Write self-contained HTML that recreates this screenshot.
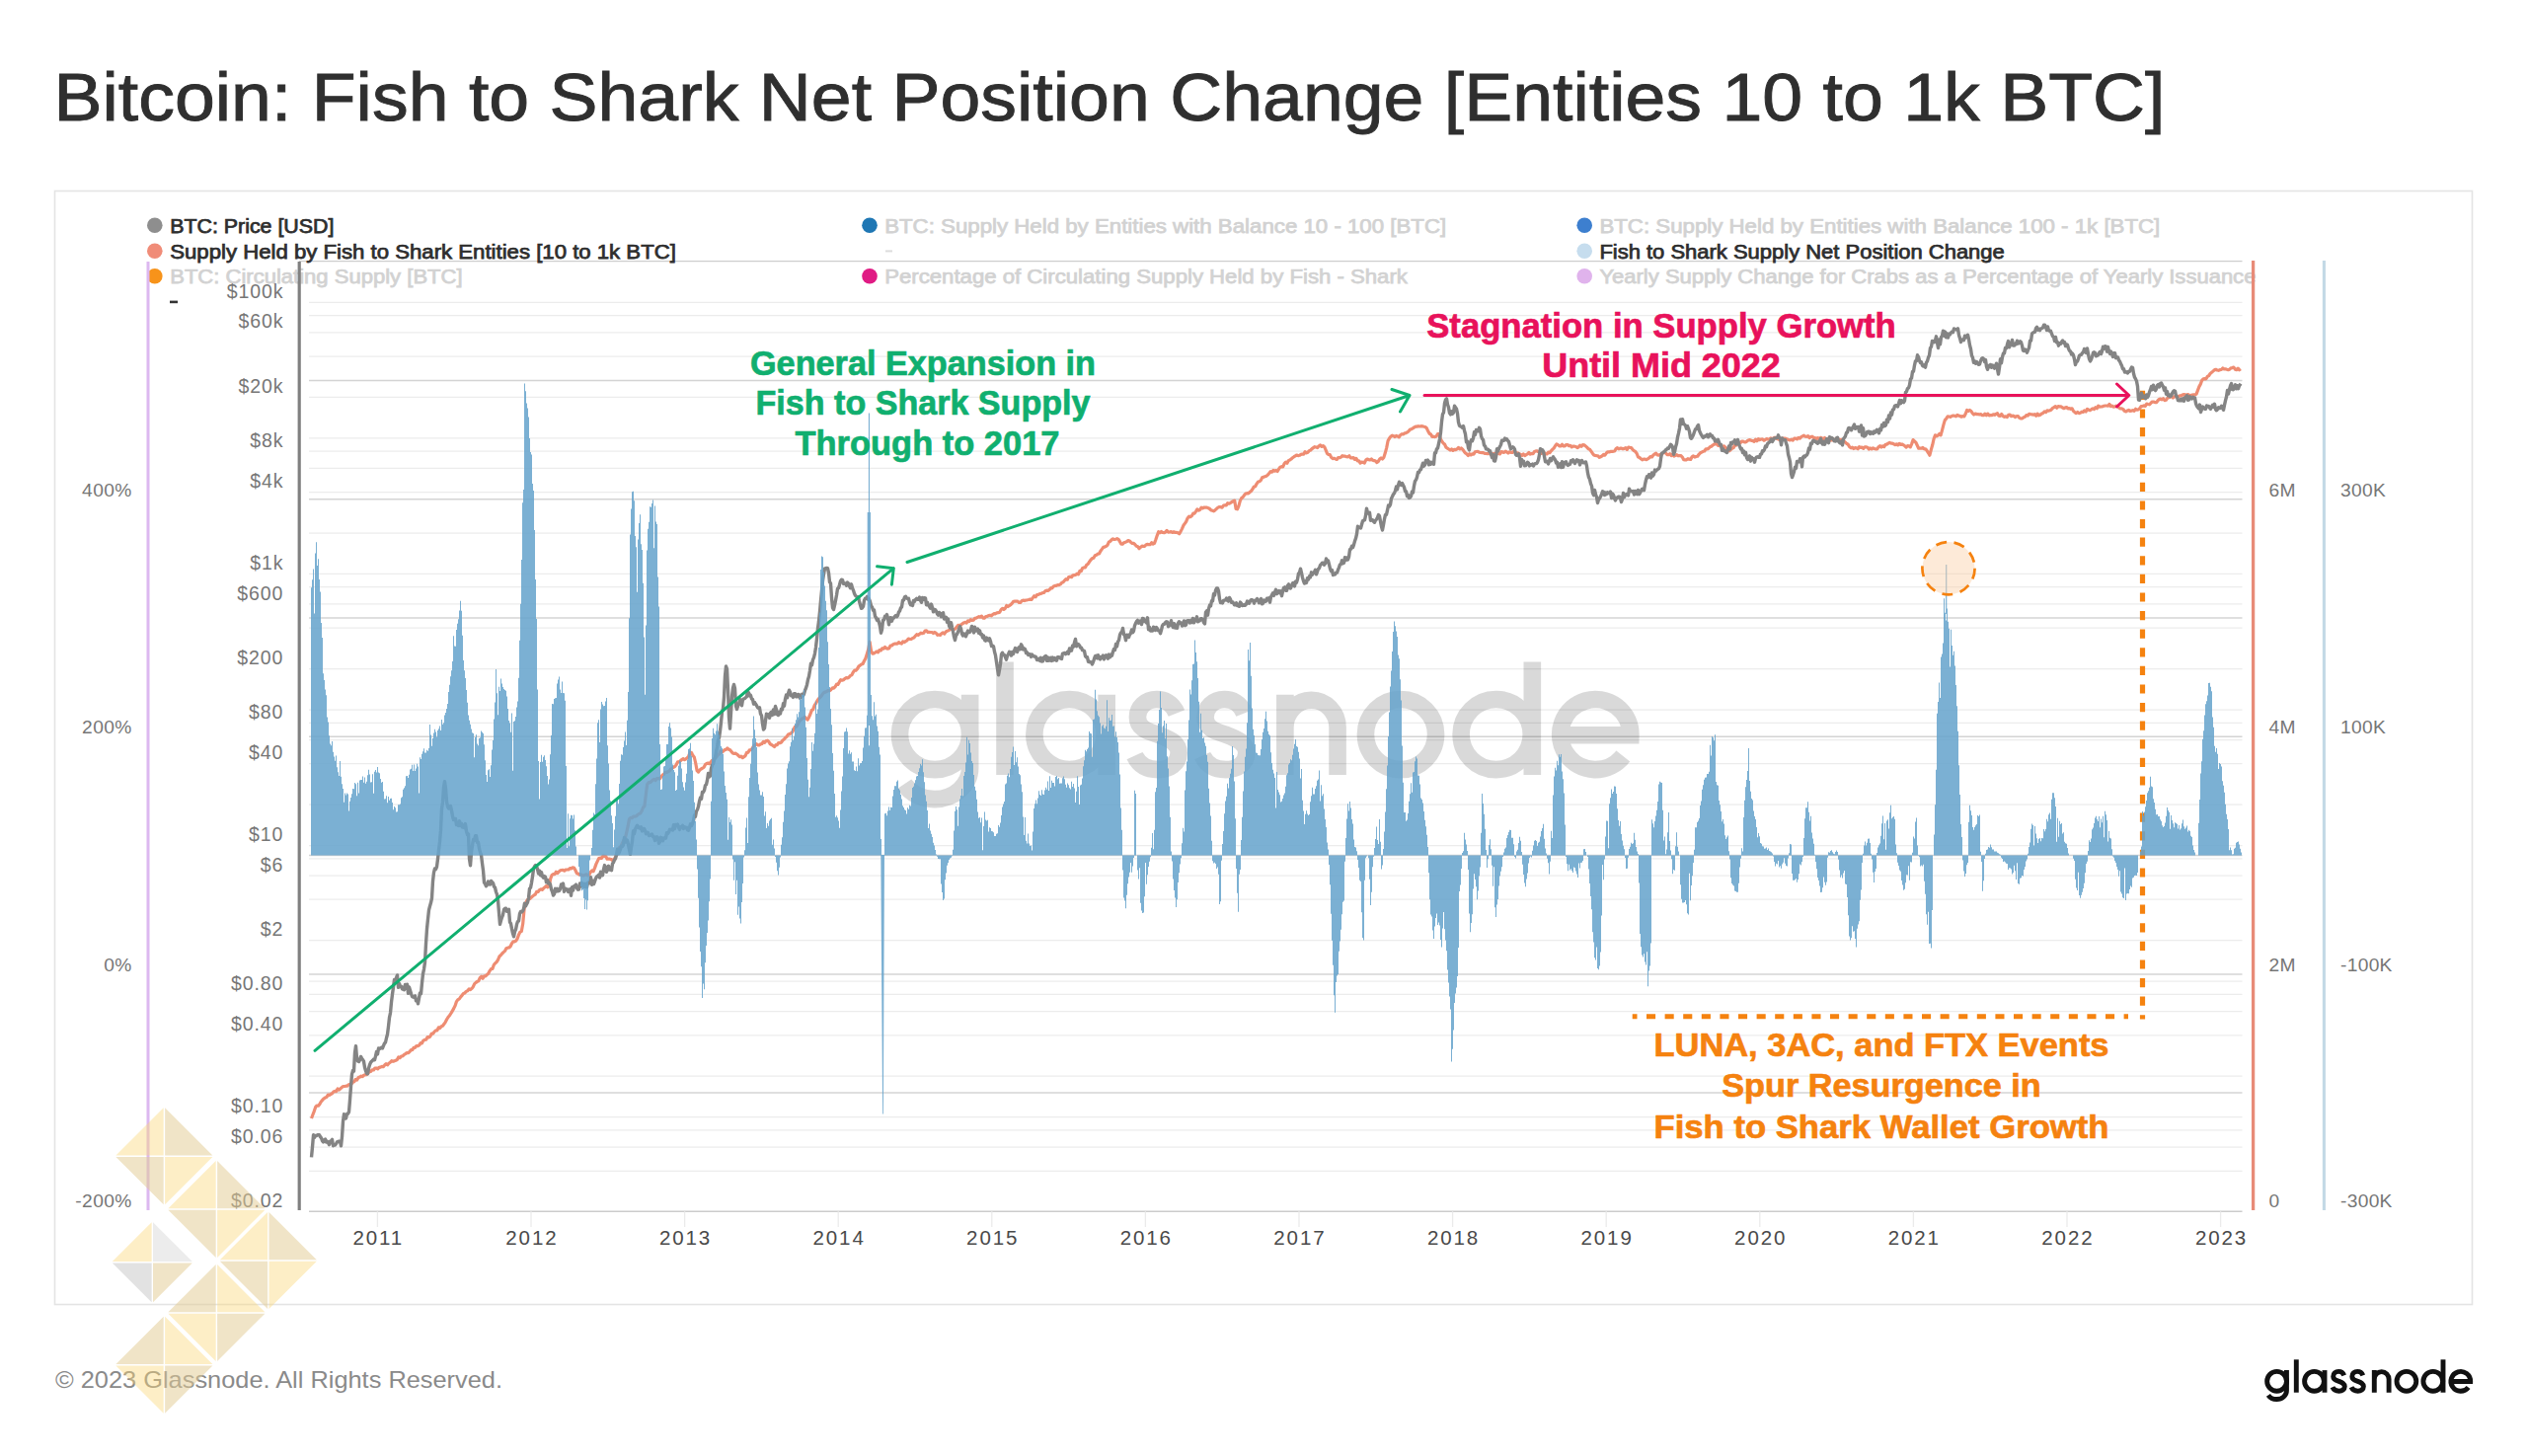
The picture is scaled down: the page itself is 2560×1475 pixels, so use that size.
<!DOCTYPE html><html><head><meta charset="utf-8"><title>Bitcoin: Fish to Shark Net Position Change</title>
<style>html,body{margin:0;padding:0;background:#fff;}body{width:2560px;height:1475px;overflow:hidden;font-family:"Liberation Sans", sans-serif;}svg{display:block;font-family:"Liberation Sans", sans-serif;}</style>
</head><body>
<svg width="2560" height="1475" viewBox="0 0 2560 1475">
<rect width="2560" height="1475" fill="#fff"/>
<text x="54.5" y="122" font-size="68.6" fill="#2f2f2f" font-weight="normal" text-anchor="start" textLength="2139" lengthAdjust="spacingAndGlyphs" stroke="#2f2f2f" stroke-width="0.9">Bitcoin: Fish to Shark Net Position Change [Entities 10 to 1k BTC]</text>
<rect x="55.5" y="193.5" width="2449" height="1128" fill="#fff" stroke="#e4e4e4" stroke-width="1.6"/>
<line x1="303" x2="2271.5" y1="264.6" y2="264.6" stroke="#cdcdcd" stroke-width="1.3"/>
<g stroke="#ececec" stroke-width="1.25"><line x1="313" x2="2271.5" y1="361" y2="361"/><line x1="313" x2="2271.5" y1="336.8" y2="336.8"/><line x1="313" x2="2271.5" y1="319.6" y2="319.6"/><line x1="313" x2="2271.5" y1="306.3" y2="306.3"/><line x1="313" x2="2271.5" y1="402.4" y2="402.4"/><line x1="313" x2="2271.5" y1="498.6" y2="498.6"/><line x1="313" x2="2271.5" y1="474.4" y2="474.4"/><line x1="313" x2="2271.5" y1="457.2" y2="457.2"/><line x1="313" x2="2271.5" y1="443.9" y2="443.9"/><line x1="313" x2="2271.5" y1="540" y2="540"/><line x1="313" x2="2271.5" y1="636.1" y2="636.1"/><line x1="313" x2="2271.5" y1="611.9" y2="611.9"/><line x1="313" x2="2271.5" y1="594.7" y2="594.7"/><line x1="313" x2="2271.5" y1="581.4" y2="581.4"/><line x1="313" x2="2271.5" y1="677.5" y2="677.5"/><line x1="313" x2="2271.5" y1="773.7" y2="773.7"/><line x1="313" x2="2271.5" y1="749.5" y2="749.5"/><line x1="313" x2="2271.5" y1="732.3" y2="732.3"/><line x1="313" x2="2271.5" y1="719" y2="719"/><line x1="313" x2="2271.5" y1="815.1" y2="815.1"/><line x1="313" x2="2271.5" y1="911.2" y2="911.2"/><line x1="313" x2="2271.5" y1="887" y2="887"/><line x1="313" x2="2271.5" y1="869.8" y2="869.8"/><line x1="313" x2="2271.5" y1="856.5" y2="856.5"/><line x1="313" x2="2271.5" y1="952.6" y2="952.6"/><line x1="313" x2="2271.5" y1="1048.8" y2="1048.8"/><line x1="313" x2="2271.5" y1="1024.6" y2="1024.6"/><line x1="313" x2="2271.5" y1="1007.4" y2="1007.4"/><line x1="313" x2="2271.5" y1="994.1" y2="994.1"/><line x1="313" x2="2271.5" y1="1090.2" y2="1090.2"/><line x1="313" x2="2271.5" y1="1186.3" y2="1186.3"/><line x1="313" x2="2271.5" y1="1162.1" y2="1162.1"/><line x1="313" x2="2271.5" y1="1144.9" y2="1144.9"/><line x1="313" x2="2271.5" y1="1131.6" y2="1131.6"/></g><g stroke="#d4d4d4" stroke-width="1.5"><line x1="313" x2="2271.5" y1="385.4" y2="385.4"/><line x1="313" x2="2271.5" y1="505.7" y2="505.7"/><line x1="313" x2="2271.5" y1="626" y2="626"/><line x1="313" x2="2271.5" y1="746.3" y2="746.3"/><line x1="313" x2="2271.5" y1="866.6" y2="866.6"/><line x1="313" x2="2271.5" y1="986.9" y2="986.9"/><line x1="313" x2="2271.5" y1="1107.1" y2="1107.1"/></g>
<line x1="313" x2="2271.5" y1="1227.3" y2="1227.3" stroke="#cccccc" stroke-width="1.6"/>
<line x1="382.4" x2="382.4" y1="1227.3" y2="1243" stroke="#ebebeb" stroke-width="1.3"/><text x="383.3" y="1261.2" font-size="20.5" fill="#4a4a4a" font-weight="normal" text-anchor="middle" letter-spacing="1.9">2011</text><line x1="538" x2="538" y1="1227.3" y2="1243" stroke="#ebebeb" stroke-width="1.3"/><text x="538.9" y="1261.2" font-size="20.5" fill="#4a4a4a" font-weight="normal" text-anchor="middle" letter-spacing="1.9">2012</text><line x1="693.6" x2="693.6" y1="1227.3" y2="1243" stroke="#ebebeb" stroke-width="1.3"/><text x="694.5" y="1261.2" font-size="20.5" fill="#4a4a4a" font-weight="normal" text-anchor="middle" letter-spacing="1.9">2013</text><line x1="849.2" x2="849.2" y1="1227.3" y2="1243" stroke="#ebebeb" stroke-width="1.3"/><text x="850.1" y="1261.2" font-size="20.5" fill="#4a4a4a" font-weight="normal" text-anchor="middle" letter-spacing="1.9">2014</text><line x1="1004.8" x2="1004.8" y1="1227.3" y2="1243" stroke="#ebebeb" stroke-width="1.3"/><text x="1005.7" y="1261.2" font-size="20.5" fill="#4a4a4a" font-weight="normal" text-anchor="middle" letter-spacing="1.9">2015</text><line x1="1160.4" x2="1160.4" y1="1227.3" y2="1243" stroke="#ebebeb" stroke-width="1.3"/><text x="1161.3" y="1261.2" font-size="20.5" fill="#4a4a4a" font-weight="normal" text-anchor="middle" letter-spacing="1.9">2016</text><line x1="1316" x2="1316" y1="1227.3" y2="1243" stroke="#ebebeb" stroke-width="1.3"/><text x="1316.9" y="1261.2" font-size="20.5" fill="#4a4a4a" font-weight="normal" text-anchor="middle" letter-spacing="1.9">2017</text><line x1="1471.6" x2="1471.6" y1="1227.3" y2="1243" stroke="#ebebeb" stroke-width="1.3"/><text x="1472.5" y="1261.2" font-size="20.5" fill="#4a4a4a" font-weight="normal" text-anchor="middle" letter-spacing="1.9">2018</text><line x1="1627.2" x2="1627.2" y1="1227.3" y2="1243" stroke="#ebebeb" stroke-width="1.3"/><text x="1628.1" y="1261.2" font-size="20.5" fill="#4a4a4a" font-weight="normal" text-anchor="middle" letter-spacing="1.9">2019</text><line x1="1782.8" x2="1782.8" y1="1227.3" y2="1243" stroke="#ebebeb" stroke-width="1.3"/><text x="1783.7" y="1261.2" font-size="20.5" fill="#4a4a4a" font-weight="normal" text-anchor="middle" letter-spacing="1.9">2020</text><line x1="1938.4" x2="1938.4" y1="1227.3" y2="1243" stroke="#ebebeb" stroke-width="1.3"/><text x="1939.3" y="1261.2" font-size="20.5" fill="#4a4a4a" font-weight="normal" text-anchor="middle" letter-spacing="1.9">2021</text><line x1="2094" x2="2094" y1="1227.3" y2="1243" stroke="#ebebeb" stroke-width="1.3"/><text x="2094.9" y="1261.2" font-size="20.5" fill="#4a4a4a" font-weight="normal" text-anchor="middle" letter-spacing="1.9">2022</text><line x1="2249.6" x2="2249.6" y1="1227.3" y2="1243" stroke="#ebebeb" stroke-width="1.3"/><text x="2250.5" y="1261.2" font-size="20.5" fill="#4a4a4a" font-weight="normal" text-anchor="middle" letter-spacing="1.9">2023</text>
<g transform="translate(902.7 785.0) scale(3.593)" fill="none" stroke="#000" stroke-width="4.9" opacity="0.145"><circle cx="12.35" cy="-11.4" r="9.9"/><path d="M22.25 -22.6 V-2 A9.9 8.85 0 0 1 12.35 6.85 A9.9 8.85 0 0 1 3.7 2.6"/><path d="M32.1 -31.9 V0"/><circle cx="50.3" cy="-11.4" r="9.9"/><path d="M60.8 -22.6 V0"/><path d="M80.5 -17.4 C79.3 -20.4 76.89999999999999 -21.3 74.89999999999999 -21.3 C71.69999999999999 -21.3 69.5 -19 69.5 -16.3 C69.5 -13 72.5 -12.3 75.39999999999999 -11.3 C78.69999999999999 -10 81.1 -9 81.1 -6.1 C81.1 -3.2 78.5 -1.5 75.3 -1.5 C72.19999999999999 -1.5 69.89999999999999 -2.8 68.69999999999999 -5.4"/><path d="M99.60000000000001 -17.4 C98.4 -20.4 96.0 -21.3 94.0 -21.3 C90.8 -21.3 88.60000000000001 -19 88.60000000000001 -16.3 C88.60000000000001 -13 91.60000000000001 -12.3 94.5 -11.3 C97.8 -10 100.2 -9 100.2 -6.1 C100.2 -3.2 97.60000000000001 -1.5 94.4 -1.5 C91.3 -1.5 89.0 -2.8 87.8 -5.4"/><path d="M111.1 0 V-22.6 M111.1 -13.4 A7.4 7.7 0 0 1 125.9 -13.4 V0"/><circle cx="143.7" cy="-11.4" r="9.9"/><circle cx="170.6" cy="-11.4" r="9.9"/><path d="M180.8 -31.9 V0"/><path d="M188.7 -11.2 H208.5 A9.9 9.9 0 1 0 206.4 -5.3"/></g>
<circle cx="156.8" cy="228.3" r="7.8" fill="#8e8e8e"/><text x="172.2" y="235.6" font-size="20" fill="#2e2e2e" font-weight="normal" text-anchor="start" textLength="166.2" lengthAdjust="spacingAndGlyphs" stroke="#2e2e2e" stroke-width="0.75">BTC: Price [USD]</text><circle cx="156.8" cy="254.2" r="7.8" fill="#f08c78"/><text x="172.2" y="261.5" font-size="20" fill="#2e2e2e" font-weight="normal" text-anchor="start" textLength="512.7" lengthAdjust="spacingAndGlyphs" stroke="#2e2e2e" stroke-width="0.75">Supply Held by Fish to Shark Entities [10 to 1k BTC]</text><circle cx="156.8" cy="279.8" r="7.8" fill="#f7931a"/><text x="172.2" y="287.2" font-size="20" fill="#d2d2d2" font-weight="normal" text-anchor="start" textLength="296.4" lengthAdjust="spacingAndGlyphs" stroke="#d2d2d2" stroke-width="0.75">BTC: Circulating Supply [BTC]</text><rect x="172" y="304.6" width="8" height="2.6" fill="#333"/><circle cx="881" cy="228.3" r="7.8" fill="#1f77b4"/><text x="896.2" y="235.6" font-size="20" fill="#d2d2d2" font-weight="normal" text-anchor="start" textLength="569" lengthAdjust="spacingAndGlyphs" stroke="#d2d2d2" stroke-width="0.75">BTC: Supply Held by Entities with Balance 10 - 100 [BTC]</text><rect x="897" y="253.4" width="7" height="2" fill="#dcdcdc"/><circle cx="881" cy="279.8" r="7.8" fill="#e01b84"/><text x="896.2" y="287.2" font-size="20" fill="#d2d2d2" font-weight="normal" text-anchor="start" textLength="529.7" lengthAdjust="spacingAndGlyphs" stroke="#d2d2d2" stroke-width="0.75">Percentage of Circulating Supply Held by Fish - Shark</text><circle cx="1605.2" cy="228.3" r="7.8" fill="#3d7fcf"/><text x="1620.4" y="235.6" font-size="20" fill="#d2d2d2" font-weight="normal" text-anchor="start" textLength="567.9" lengthAdjust="spacingAndGlyphs" stroke="#d2d2d2" stroke-width="0.75">BTC: Supply Held by Entities with Balance 100 - 1k [BTC]</text><circle cx="1605.2" cy="254.2" r="7.8" fill="#c6ddee"/><text x="1620.4" y="261.5" font-size="20" fill="#2e2e2e" font-weight="normal" text-anchor="start" textLength="410.4" lengthAdjust="spacingAndGlyphs" stroke="#2e2e2e" stroke-width="0.75">Fish to Shark Supply Net Position Change</text><circle cx="1605.2" cy="279.8" r="7.8" fill="#e0b3ec"/><text x="1620.4" y="287.2" font-size="20" fill="#d2d2d2" font-weight="normal" text-anchor="start" textLength="665" lengthAdjust="spacingAndGlyphs" stroke="#d2d2d2" stroke-width="0.75">Yearly Supply Change for Crabs as a Percentage of Yearly Issuance</text>
<line x1="150" x2="150" y1="265" y2="1226" stroke="#dcb8f0" stroke-width="3"/>
<line x1="303.2" x2="303.2" y1="265" y2="1226" stroke="#808080" stroke-width="3.2"/>
<line x1="2282.6" x2="2282.6" y1="264" y2="1226" stroke="#e88b78" stroke-width="3.3"/>
<line x1="2354.4" x2="2354.4" y1="264" y2="1226" stroke="#c3d9e6" stroke-width="3.1"/>
<text x="287.3" y="301.9" font-size="19.5" fill="#767676" font-weight="normal" text-anchor="end" letter-spacing="0.9">$100k</text><text x="287.3" y="332.4" font-size="19.5" fill="#767676" font-weight="normal" text-anchor="end" letter-spacing="0.9">$60k</text><text x="287.3" y="398" font-size="19.5" fill="#767676" font-weight="normal" text-anchor="end" letter-spacing="0.9">$20k</text><text x="287.3" y="452.8" font-size="19.5" fill="#767676" font-weight="normal" text-anchor="end" letter-spacing="0.9">$8k</text><text x="287.3" y="494.2" font-size="19.5" fill="#767676" font-weight="normal" text-anchor="end" letter-spacing="0.9">$4k</text><text x="287.3" y="577" font-size="19.5" fill="#767676" font-weight="normal" text-anchor="end" letter-spacing="0.9">$1k</text><text x="287.3" y="607.5" font-size="19.5" fill="#767676" font-weight="normal" text-anchor="end" letter-spacing="0.9">$600</text><text x="287.3" y="673.1" font-size="19.5" fill="#767676" font-weight="normal" text-anchor="end" letter-spacing="0.9">$200</text><text x="287.3" y="727.9" font-size="19.5" fill="#767676" font-weight="normal" text-anchor="end" letter-spacing="0.9">$80</text><text x="287.3" y="769.3" font-size="19.5" fill="#767676" font-weight="normal" text-anchor="end" letter-spacing="0.9">$40</text><text x="287.3" y="852.1" font-size="19.5" fill="#767676" font-weight="normal" text-anchor="end" letter-spacing="0.9">$10</text><text x="287.3" y="882.6" font-size="19.5" fill="#767676" font-weight="normal" text-anchor="end" letter-spacing="0.9">$6</text><text x="287.3" y="948.2" font-size="19.5" fill="#767676" font-weight="normal" text-anchor="end" letter-spacing="0.9">$2</text><text x="287.3" y="1003" font-size="19.5" fill="#767676" font-weight="normal" text-anchor="end" letter-spacing="0.9">$0.80</text><text x="287.3" y="1044.4" font-size="19.5" fill="#767676" font-weight="normal" text-anchor="end" letter-spacing="0.9">$0.40</text><text x="287.3" y="1127.2" font-size="19.5" fill="#767676" font-weight="normal" text-anchor="end" letter-spacing="0.9">$0.10</text><text x="287.3" y="1157.7" font-size="19.5" fill="#767676" font-weight="normal" text-anchor="end" letter-spacing="0.9">$0.06</text><text x="287.3" y="1223.3" font-size="19.5" fill="#767676" font-weight="normal" text-anchor="end" letter-spacing="0.9">$0.02</text><text x="133.8" y="502.9" font-size="19.2" fill="#767676" font-weight="normal" text-anchor="end" letter-spacing="0.4">400%</text><text x="2298.6" y="502.9" font-size="19.2" fill="#767676" font-weight="normal" text-anchor="start" letter-spacing="0.3">6M</text><text x="2371" y="502.9" font-size="19.2" fill="#767676" font-weight="normal" text-anchor="start" letter-spacing="0.3">300K</text><text x="133.8" y="742.9" font-size="19.2" fill="#767676" font-weight="normal" text-anchor="end" letter-spacing="0.4">200%</text><text x="2298.6" y="742.9" font-size="19.2" fill="#767676" font-weight="normal" text-anchor="start" letter-spacing="0.3">4M</text><text x="2371" y="742.9" font-size="19.2" fill="#767676" font-weight="normal" text-anchor="start" letter-spacing="0.3">100K</text><text x="133.8" y="983.9" font-size="19.2" fill="#767676" font-weight="normal" text-anchor="end" letter-spacing="0.4">0%</text><text x="2298.6" y="983.9" font-size="19.2" fill="#767676" font-weight="normal" text-anchor="start" letter-spacing="0.3">2M</text><text x="2371" y="983.9" font-size="19.2" fill="#767676" font-weight="normal" text-anchor="start" letter-spacing="0.3">-100K</text><text x="133.8" y="1223.4" font-size="19.2" fill="#767676" font-weight="normal" text-anchor="end" letter-spacing="0.4">-200%</text><text x="2298.6" y="1223.4" font-size="19.2" fill="#767676" font-weight="normal" text-anchor="start" letter-spacing="0.3">0</text><text x="2371" y="1223.4" font-size="19.2" fill="#767676" font-weight="normal" text-anchor="start" letter-spacing="0.3">-300K</text>
<line x1="2170.5" x2="2170.5" y1="395.8" y2="1032.4" stroke="#f5820f" stroke-width="5.2" stroke-dasharray="9.2 9.4"/>
<path d="M315.5 1133L316.9 1129.2L318.3 1125.6L319.7 1121.4L321.1 1120L322.5 1120.2L323.9 1118.4L325.3 1116L326.7 1114.4L328.1 1112.8L329.5 1112L330.9 1111.4L332.3 1109.1L333.7 1109.5L335.1 1108.5L336.5 1107.7L337.9 1106L339.3 1105.4L340.7 1105.6L342.1 1103L343.5 1104.1L344.9 1102.8L346.3 1101.6L347.7 1100.5L349.1 1100.5L350.5 1100.2L351.9 1100.1L353.3 1098.7L354.7 1098.4L356.1 1097.8L357.5 1096.3L358.9 1095.8L360.3 1093.4L361.7 1094L363.1 1091.5L364.5 1091.1L365.9 1090.2L367.3 1090.6L368.7 1089.2L370.1 1088.7L371.5 1088.6L372.9 1087.2L374.3 1085.7L375.7 1085.4L377.1 1083.8L378.5 1083.9L379.9 1082.1L381.3 1082L382.7 1082.8L384.1 1081.4L385.5 1081.1L386.9 1080.4L388.3 1080.7L389.7 1079L391.1 1077.7L392.5 1078.9L393.9 1077.3L395.3 1076.3L396.7 1074.7L398.1 1075.3L399.5 1074.9L400.9 1074.3L402.3 1073.6L403.7 1070.9L405.1 1071.7L406.5 1070L407.9 1069.8L409.3 1068.5L410.7 1067.6L412.1 1066.6L413.5 1066.7L414.9 1065.5L416.3 1063.7L417.7 1063.7L419.1 1061.3L420.5 1061.3L421.9 1059.5L423.3 1059.7L424.7 1058.9L426.1 1056.7L427.5 1056.8L428.9 1054.1L430.3 1053.4L431.7 1053.2L433.1 1050.6L434.5 1050.9L435.9 1049.9L437.3 1047L438.7 1047.2L440.1 1045.1L441.5 1043.9L442.9 1043.9L444.3 1040.8L445.7 1041.6L447.1 1039.7L448.5 1039.2L449.9 1037.3L451.3 1035.3L452.7 1032.5L454.1 1030.3L455.5 1028.7L456.9 1026.5L458.3 1024.1L459.7 1021.6L461.1 1018.8L462.5 1014.6L463.9 1012.6L465.3 1012L466.7 1009.8L468.1 1008.3L469.5 1006.4L470.9 1005.9L472.3 1004.4L473.7 1003.8L475.1 1001.9L476.5 1002.7L477.9 1001.4L479.3 999.7L480.7 996.6L482.1 995.4L483.5 994.4L484.9 993.7L486.3 990.4L487.7 989.3L489.1 991.3L490.5 988.9L491.9 988.8L493.3 987.4L494.7 986.3L496.1 983.6L497.5 981.6L498.9 981.4L500.3 977.5L501.7 975.8L503.1 974.5L504.5 972.4L505.9 969L507.3 967.6L508.7 966L510.1 964.6L511.5 963.4L512.9 960.7L514.3 960.2L515.7 960L517.1 958.8L518.5 955.8L519.9 953.9L521.3 953.9L522.7 953.1L524.1 950.9L525.5 947L526.9 944.1L528.3 943.5L529.7 935.8L531.1 920.6L532.5 915.4L533.9 912.1L535.3 910.7L536.7 910.6L538.1 909.2L539.5 908.1L540.9 906.9L542.3 906.1L543.7 903.3L545.1 903.4L546.5 901.6L547.9 900.8L549.3 901.3L550.7 899.8L552.1 898.8L553.5 897.4L554.9 898.8L556.3 897.8L557.7 890.1L559.1 886.5L560.5 885.5L561.9 885.7L563.3 883.3L564.7 884.5L566.1 883.1L567.5 881.8L568.9 881.5L570.3 881.3L571.7 882.2L573.1 881.1L574.5 881L575.9 881L577.3 879.7L578.7 879.9L580.1 878.9L581.5 879L582.9 881.5L584.3 884.7L585.7 885.1L587.1 886.2L588.5 885.8L589.9 886.8L591.3 886.9L592.7 886.3L594.1 885.9L595.5 886.8L596.9 886.1L598.3 883.3L599.7 882L601.1 882.7L602.5 879.4L603.9 875.4L605.3 872.4L606.7 869.6L608.1 869.2L609.5 869.3L610.9 867.2L612.3 867.4L613.7 867.6L615.1 870.2L616.5 870.1L617.9 870.2L619.3 870.6L620.7 871.9L622.1 870.4L623.5 868.3L624.9 864.5L626.3 862.2L627.7 858.3L629.1 857.4L630.5 853.9L631.9 851.2L633.3 849.3L634.7 843.5L636.1 837.2L637.5 829.6L638.9 828.4L640.3 828.7L641.7 827L643.1 827.1L644.5 826.9L645.9 825.5L647.3 824.5L648.7 824L650.1 821.7L651.5 818L652.9 816.8L654.3 805.3L655.7 794.4L657.1 792.7L658.5 792.6L659.9 791.6L661.3 790.2L662.7 789.3L664.1 790.6L665.5 788.6L666.9 788.6L668.3 789L669.7 787.1L671.1 785.2L672.5 784.4L673.9 782.4L675.3 782.5L676.7 781.8L678.1 781.1L679.5 779.1L680.9 778.3L682.3 777.2L683.7 776.5L685.1 774.8L686.5 771.9L687.9 771.9L689.3 770.7L690.7 769.5L692.1 768.6L693.5 769.7L694.9 768.8L696.3 767.7L697.7 765.9L699.1 762.1L700.5 762.5L701.9 765.4L703.3 767L704.7 773L706.1 780.6L707.5 782L708.9 780.1L710.3 779L711.7 778.2L713.1 777.2L714.5 774.6L715.9 773.5L717.3 773L718.7 773.7L720.1 772L721.5 770.3L722.9 770L724.3 767.5L725.7 767.2L727.1 765L728.5 764L729.9 761L731.3 762.1L732.7 761L734.1 759.6L735.5 759.4L736.9 758L738.3 759.2L739.7 759.7L741.1 761.6L742.5 763.1L743.9 763.3L745.3 763.2L746.7 764.2L748.1 765.5L749.5 766.7L750.9 766.1L752.3 767.6L753.7 766.6L755.1 765.6L756.5 762.4L757.9 762.3L759.3 759.9L760.7 759.7L762.1 758.3L763.5 755.7L764.9 754.6L766.3 753.6L767.7 754.9L769.1 754.8L770.5 753.9L771.9 753.5L773.3 751.5L774.7 752.3L776.1 750.5L777.5 750.2L778.9 751.5L780.3 753.8L781.7 754.5L783.1 755.5L784.5 756.5L785.9 754.7L787.3 754.6L788.7 752.5L790.1 752.7L791.5 752L792.9 750L794.3 749L795.7 747.3L797.1 746.2L798.5 744L799.9 743.6L801.3 742.8L802.7 741.6L804.1 738.7L805.5 736L806.9 736.2L808.3 733.7L809.7 730.7L811.1 729.4L812.5 728L813.9 727.5L815.3 726.3L816.7 727.8L818.1 729.1L819.5 726.7L820.9 723.5L822.3 719.6L823.7 718.6L825.1 714.7L826.5 712.6L827.9 709.9L829.3 707.8L830.7 706.5L832.1 705.1L833.5 702.8L834.9 701.4L836.3 701.1L837.7 700.3L839.1 699.5L840.5 699.6L841.9 698.6L843.3 696.9L844.7 697.1L846.1 695.7L847.5 693.2L848.9 693.5L850.3 690.9L851.7 688.7L853.1 689.2L854.5 688.7L855.9 687.5L857.3 686.5L858.7 687L860.1 686.1L861.5 684.4L862.9 683.8L864.3 681L865.7 679.1L867.1 679.1L868.5 677.6L869.9 675.1L871.3 674.1L872.7 673L874.1 672.5L875.5 669.5L876.9 666.9L878.3 662.5L879.7 657.8L881.1 650.2L882.5 659.2L883.9 662.1L885.3 661.9L886.7 661L888.1 660L889.5 660.9L890.9 658.7L892.3 659L893.7 656.9L895.1 657.1L896.5 655.5L897.9 656.7L899.3 657.2L900.7 656.7L902.1 654.1L903.5 654L904.9 652.7L906.3 652.1L907.7 652.1L909.1 652.1L910.5 650.7L911.9 651.6L913.3 652.1L914.7 649.9L916.1 650.6L917.5 649.7L918.9 648.9L920.3 647L921.7 647.5L923.1 647.5L924.5 646.5L925.9 646L927.3 644.3L928.7 642.7L930.1 643.4L931.5 642.4L932.9 641.2L934.3 641.6L935.7 641.3L937.1 639.1L938.5 638.9L939.9 640.5L941.3 640.3L942.7 640.5L944.1 640.5L945.5 641.6L946.9 640.5L948.3 641.4L949.7 643.3L951.1 643L952.5 643.4L953.9 641.8L955.3 640.8L956.7 642.1L958.1 640.1L959.5 639.2L960.9 638.8L962.3 637.7L963.7 637.1L965.1 637.3L966.5 637.6L967.9 636.8L969.3 635L970.7 633.4L972.1 633.6L973.5 633.1L974.9 631.8L976.3 631L977.7 630.4L979.1 631L980.5 628.9L981.9 629.5L983.3 627.7L984.7 628.4L986.1 628.2L987.5 626.4L988.9 626.2L990.3 625.4L991.7 624.7L993.1 625.1L994.5 624.1L995.9 626.1L997.3 626.1L998.7 624.5L1000.1 624.4L1001.5 623.5L1002.9 623.3L1004.3 623.8L1005.7 622.5L1007.1 621.6L1008.5 621.8L1009.9 620.8L1011.3 620.6L1012.7 620.4L1014.1 617.6L1015.5 616.3L1016.9 617.4L1018.3 616.4L1019.7 613.5L1021.1 614.5L1022.5 613.5L1023.9 612.7L1025.3 611.2L1026.7 609.3L1028.1 609.2L1029.5 609.2L1030.9 609L1032.3 610.5L1033.7 610.4L1035.1 608.8L1036.5 608.1L1037.9 608.6L1039.3 608L1040.7 607.8L1042.1 607.5L1043.5 607.1L1044.9 607.5L1046.3 605.6L1047.7 603.7L1049.1 604.8L1050.5 602.5L1051.9 602.4L1053.3 601.6L1054.7 601.4L1056.1 600.6L1057.5 600.5L1058.9 598.8L1060.3 598.2L1061.7 598.3L1063.1 597.4L1064.5 595.7L1065.9 595.8L1067.3 593.9L1068.7 593.4L1070.1 593.3L1071.5 592.6L1072.9 592.6L1074.3 591.9L1075.7 590.3L1077.1 589.8L1078.5 588.1L1079.9 586.6L1081.3 587.2L1082.7 584.6L1084.1 584.2L1085.5 584.7L1086.9 582.8L1088.3 582.6L1089.7 582.4L1091.1 581.1L1092.5 581.8L1093.9 578.4L1095.3 578.6L1096.7 575.4L1098.1 574.9L1099.5 574.8L1100.9 572.1L1102.3 571.3L1103.7 568.9L1105.1 567.1L1106.5 565.5L1107.9 565.3L1109.3 562.8L1110.7 562.3L1112.1 561.1L1113.5 560.9L1114.9 558.3L1116.3 556.4L1117.7 554.4L1119.1 554.1L1120.5 553.4L1121.9 552.3L1123.3 549.2L1124.7 548.4L1126.1 546.9L1127.5 545.9L1128.9 546.5L1130.3 546.2L1131.7 545.7L1133.1 546.4L1134.5 548.7L1135.9 551.2L1137.3 551.2L1138.7 549.7L1140.1 549.2L1141.5 548.6L1142.9 547.6L1144.3 548L1145.7 549.4L1147.1 550.5L1148.5 550.3L1149.9 551.7L1151.3 553.3L1152.7 553.8L1154.1 555.7L1155.5 554.4L1156.9 553.2L1158.3 553.3L1159.7 553.3L1161.1 551.7L1162.5 551.4L1163.9 551.7L1165.3 551.6L1166.7 549.7L1168.1 551.1L1169.5 550.4L1170.9 546.5L1172.3 542.3L1173.7 538.7L1175.1 539.7L1176.5 538.5L1177.9 539.5L1179.3 539.7L1180.7 539L1182.1 537.4L1183.5 539.1L1184.9 539L1186.3 538.6L1187.7 539.5L1189.1 538.8L1190.5 539.5L1191.9 539.4L1193.3 539.7L1194.7 540.8L1196.1 538.4L1197.5 535.6L1198.9 532.3L1200.3 530.4L1201.7 528.3L1203.1 524.9L1204.5 523.2L1205.9 523.6L1207.3 522.7L1208.7 520.2L1210.1 520.1L1211.5 518.1L1212.9 515.9L1214.3 517.2L1215.7 516.4L1217.1 514.1L1218.5 514.8L1219.9 514L1221.3 514.1L1222.7 514.1L1224.1 514.7L1225.5 515.5L1226.9 516.9L1228.3 517.2L1229.7 517.8L1231.1 516.7L1232.5 515.4L1233.9 514.1L1235.3 513.5L1236.7 513.7L1238.1 514.1L1239.5 512.1L1240.9 511.8L1242.3 512L1243.7 509.7L1245.1 510.2L1246.5 509.6L1247.9 508.5L1249.3 507.8L1250.7 507.1L1252.1 515.4L1253.5 515.8L1254.9 512.7L1256.3 507.4L1257.7 504.6L1259.1 503.6L1260.5 501.6L1261.9 500L1263.3 499.7L1264.7 499.8L1266.1 498.5L1267.5 497.4L1268.9 495.6L1270.3 493L1271.7 492.8L1273.1 490.1L1274.5 488.1L1275.9 487.8L1277.3 486.6L1278.7 483.8L1280.1 483.2L1281.5 482.7L1282.9 482.3L1284.3 481.1L1285.7 479.5L1287.1 477.6L1288.5 478.2L1289.9 476.5L1291.3 477.2L1292.7 476.5L1294.1 477.5L1295.5 475.1L1296.9 473.2L1298.3 472.7L1299.7 472.8L1301.1 469.6L1302.5 468.2L1303.9 469.3L1305.3 466.6L1306.7 466L1308.1 465L1309.5 463.7L1310.9 462.7L1312.3 461.8L1313.7 461L1315.1 461.6L1316.5 461.3L1317.9 460.4L1319.3 460L1320.7 460.1L1322.1 457.6L1323.5 458.9L1324.9 458.2L1326.3 456.6L1327.7 456L1329.1 454.6L1330.5 453.6L1331.9 452.7L1333.3 453L1334.7 453.6L1336.1 451.8L1337.5 451L1338.9 452.4L1340.3 451.6L1341.7 452.7L1343.1 455.9L1344.5 459.4L1345.9 460.5L1347.3 460.7L1348.7 463.4L1350.1 464.6L1351.5 464.3L1352.9 464.9L1354.3 465.4L1355.7 463.6L1357.1 463.7L1358.5 463.1L1359.9 461.7L1361.3 462.1L1362.7 462.2L1364.1 462.6L1365.5 462.8L1366.9 461.8L1368.3 463.8L1369.7 463.9L1371.1 463.6L1372.5 465.4L1373.9 464.4L1375.3 466.9L1376.7 466.8L1378.1 469.1L1379.5 468.2L1380.9 468.3L1382.3 469L1383.7 466.1L1385.1 465L1386.5 465.7L1387.9 465.9L1389.3 465L1390.7 466.2L1392.1 466.6L1393.5 467.1L1394.9 468.5L1396.3 467.4L1397.7 465L1399.1 463.9L1400.5 465L1401.9 463.4L1403.3 458.8L1404.7 453.6L1406.1 446.5L1407.5 444.1L1408.9 442.3L1410.3 441.2L1411.7 441.7L1413.1 442.5L1414.5 441.4L1415.9 441.9L1417.3 442.8L1418.7 440.7L1420.1 439.7L1421.5 440L1422.9 438.9L1424.3 438.7L1425.7 437.9L1427.1 436.8L1428.5 435.1L1429.9 434.7L1431.3 433.9L1432.7 432.9L1434.1 432.2L1435.5 432.2L1436.9 431.7L1438.3 432L1439.7 431.7L1441.1 431.8L1442.5 432.2L1443.9 432.5L1445.3 433.7L1446.7 436.8L1448.1 439.3L1449.5 440L1450.9 442.5L1452.3 442.3L1453.7 442.6L1455.1 442L1456.5 439.6L1457.9 439.7L1459.3 444.4L1460.7 447L1462.1 448.9L1463.5 450L1464.9 453.2L1466.3 454.1L1467.7 455L1469.1 456L1470.5 454.9L1471.9 456.4L1473.3 455.3L1474.7 455.6L1476.1 454.8L1477.5 453.5L1478.9 454.9L1480.3 454L1481.7 455.2L1483.1 457.2L1484.5 459L1485.9 459.9L1487.3 461.5L1488.7 459.8L1490.1 460.9L1491.5 459.8L1492.9 460.1L1494.3 457.8L1495.7 457.5L1497.1 457.3L1498.5 458.2L1499.9 458.5L1501.3 458.6L1502.7 458.6L1504.1 459.4L1505.5 459.5L1506.9 459.7L1508.3 459.3L1509.7 460L1511.1 459.3L1512.5 460.4L1513.9 459.4L1515.3 459.5L1516.7 459.8L1518.1 459.1L1519.5 460L1520.9 457.6L1522.3 457.9L1523.7 458.4L1525.1 457.2L1526.5 458L1527.9 459L1529.3 457.8L1530.7 458.3L1532.1 458.5L1533.5 457.3L1534.9 457.6L1536.3 459.7L1537.7 458.9L1539.1 459.8L1540.5 460.5L1541.9 461.4L1543.3 459.9L1544.7 461.6L1546.1 460.7L1547.5 459.9L1548.9 458.5L1550.3 460.1L1551.7 459.5L1553.1 459.6L1554.5 457.4L1555.9 456.9L1557.3 456.9L1558.7 457.9L1560.1 459.1L1561.5 459.5L1562.9 458.2L1564.3 458.6L1565.7 460L1567.1 460L1568.5 458.2L1569.9 458.7L1571.3 456.8L1572.7 455.3L1574.1 454.1L1575.5 451.7L1576.9 449.9L1578.3 450.6L1579.7 451.8L1581.1 452L1582.5 450.3L1583.9 451.9L1585.3 451.8L1586.7 450.5L1588.1 450.5L1589.5 451.7L1590.9 451.4L1592.3 452.9L1593.7 452L1595.1 452.2L1596.5 452.5L1597.9 453.6L1599.3 452.8L1600.7 451.1L1602.1 452.2L1603.5 450.6L1604.9 450.8L1606.3 451.9L1607.7 453.1L1609.1 454.7L1610.5 455.2L1611.9 457.1L1613.3 459.2L1614.7 461L1616.1 461.5L1617.5 461.7L1618.9 461.8L1620.3 463.3L1621.7 462.7L1623.1 461.8L1624.5 460.5L1625.9 461.2L1627.3 459L1628.7 457.8L1630.1 457.9L1631.5 457.4L1632.9 457.3L1634.3 457.3L1635.7 457L1637.1 454.6L1638.5 453.7L1639.9 454.8L1641.3 454.2L1642.7 454.2L1644.1 454.8L1645.5 454.4L1646.9 453.7L1648.3 455.4L1649.7 453L1651.1 453.3L1652.5 453.5L1653.9 455.3L1655.3 456.6L1656.7 457.4L1658.1 459.2L1659.5 462.9L1660.9 463.4L1662.3 464.8L1663.7 465.8L1665.1 465.1L1666.5 465.2L1667.9 465.6L1669.3 464.8L1670.7 463.9L1672.1 462.5L1673.5 462.9L1674.9 461.1L1676.3 460L1677.7 459.2L1679.1 460.9L1680.5 461.2L1681.9 460.3L1683.3 460.3L1684.7 459.1L1686.1 457.9L1687.5 458.9L1688.9 460.6L1690.3 460.7L1691.7 459.7L1693.1 461.6L1694.5 460.1L1695.9 462.1L1697.3 461.4L1698.7 460.7L1700.1 461.8L1701.5 461.5L1702.9 461.7L1704.3 463.1L1705.7 465.7L1707.1 465.9L1708.5 465.8L1709.9 464.7L1711.3 465.1L1712.7 465.5L1714.1 462.8L1715.5 461.8L1716.9 463.1L1718.3 462.5L1719.7 462.2L1721.1 460.3L1722.5 458.8L1723.9 458.1L1725.3 457.3L1726.7 457L1728.1 454.9L1729.5 455L1730.9 454.3L1732.3 452.7L1733.7 452.2L1735.1 451L1736.5 450.1L1737.9 449.6L1739.3 449.9L1740.7 451.5L1742.1 451.6L1743.5 451.8L1744.9 452.6L1746.3 451.8L1747.7 453L1749.1 454.5L1750.5 455.1L1751.9 456.8L1753.3 455.5L1754.7 454.3L1756.1 453.6L1757.5 451.1L1758.9 451.1L1760.3 449.7L1761.7 448.3L1763.1 448.6L1764.5 447L1765.9 447.2L1767.3 447.9L1768.7 447.9L1770.1 446.7L1771.5 445.9L1772.9 445.7L1774.3 446.3L1775.7 446.5L1777.1 447.3L1778.5 445.1L1779.9 446.8L1781.3 444.6L1782.7 445.6L1784.1 445L1785.5 444.8L1786.9 446.2L1788.3 445.5L1789.7 444.5L1791.1 445.1L1792.5 444.8L1793.9 443.9L1795.3 445.4L1796.7 443.8L1798.1 443.2L1799.5 444.3L1800.9 444.6L1802.3 445.4L1803.7 446L1805.1 444.2L1806.5 444.2L1807.9 444.1L1809.3 444.4L1810.7 444.9L1812.1 445.6L1813.5 445.8L1814.9 445.2L1816.3 446L1817.7 444.2L1819.1 444.1L1820.5 444.9L1821.9 443.4L1823.3 444.2L1824.7 442.6L1826.1 441.9L1827.5 441.2L1828.9 442.2L1830.3 442.3L1831.7 441.7L1833.1 443.6L1834.5 442.5L1835.9 442.2L1837.3 443.5L1838.7 443.5L1840.1 444.6L1841.5 443.6L1842.9 444.7L1844.3 443.3L1845.7 443.8L1847.1 445.1L1848.5 443.5L1849.9 445.4L1851.3 444.4L1852.7 444.8L1854.1 446.1L1855.5 445.8L1856.9 445.9L1858.3 445.5L1859.7 444.9L1861.1 446.4L1862.5 444.9L1863.9 445.8L1865.3 445.4L1866.7 445.6L1868.1 446.7L1869.5 448.3L1870.9 449.4L1872.3 450.4L1873.7 452.8L1875.1 453.8L1876.5 453.2L1877.9 454.5L1879.3 453.6L1880.7 453.8L1882.1 454.8L1883.5 452.7L1884.9 453.4L1886.3 453.1L1887.7 454.4L1889.1 452.8L1890.5 452.9L1891.9 453.2L1893.3 455.1L1894.7 454L1896.1 454.9L1897.5 453.9L1898.9 454.5L1900.3 454.9L1901.7 455L1903.1 452.7L1904.5 451.7L1905.9 453L1907.3 451.8L1908.7 452.6L1910.1 450.3L1911.5 450.1L1912.9 449.1L1914.3 448.4L1915.7 449.1L1917.1 449.2L1918.5 449.8L1919.9 450.6L1921.3 449.8L1922.7 450.9L1924.1 449.4L1925.5 450.4L1926.9 450L1928.3 450.8L1929.7 451.8L1931.1 453.1L1932.5 451.7L1933.9 451.8L1935.3 452.9L1936.7 449.6L1938.1 445.6L1939.5 447.1L1940.9 448.2L1942.3 451.2L1943.7 454.2L1945.1 454.1L1946.5 454.2L1947.9 453.5L1949.3 454.8L1950.7 454.8L1952.1 456.6L1953.5 458.8L1954.9 461.2L1956.3 455.6L1957.7 450.8L1959.1 444.5L1960.5 440.8L1961.9 441.9L1963.3 441.1L1964.7 439.4L1966.1 440.9L1967.5 435.8L1968.9 430.4L1970.3 425.6L1971.7 424.1L1973.1 421.9L1974.5 422L1975.9 422.4L1977.3 421.5L1978.7 421L1980.1 421.3L1981.5 421.8L1982.9 420.4L1984.3 421.1L1985.7 421.5L1987.1 422.2L1988.5 421.5L1989.9 421.9L1991.3 419L1992.7 415.4L1994.1 416.5L1995.5 415.5L1996.9 416.5L1998.3 418.7L1999.7 420L2001.1 419.1L2002.5 419.6L2003.9 419.7L2005.3 419.8L2006.7 419.7L2008.1 420.6L2009.5 420.7L2010.9 419.2L2012.3 420.8L2013.7 419.1L2015.1 420.8L2016.5 420.6L2017.9 420.7L2019.3 419.8L2020.7 420.3L2022.1 419.4L2023.5 418.7L2024.9 421.2L2026.3 421.4L2027.7 419.5L2029.1 421.6L2030.5 422.3L2031.9 421.9L2033.3 422.5L2034.7 420.4L2036.1 420.2L2037.5 421.7L2038.9 421.1L2040.3 421.6L2041.7 422.6L2043.1 421.5L2044.5 421.7L2045.9 423.4L2047.3 424L2048.7 423.9L2050.1 422.7L2051.5 422.3L2052.9 420.6L2054.3 421.1L2055.7 419.3L2057.1 419.6L2058.5 419.8L2059.9 420.2L2061.3 419.6L2062.7 421.2L2064.1 419.1L2065.5 420.9L2066.9 420.3L2068.3 419L2069.7 418.6L2071.1 416.9L2072.5 417.7L2073.9 415.9L2075.3 416.1L2076.7 415.8L2078.1 415L2079.5 413.4L2080.9 412.6L2082.3 411.6L2083.7 413.2L2085.1 411.7L2086.5 411.9L2087.9 411.9L2089.3 412.8L2090.7 413.7L2092.1 413L2093.5 412.5L2094.9 413.9L2096.3 413.6L2097.7 414.3L2099.1 413.8L2100.5 416.4L2101.9 417.7L2103.3 418.7L2104.7 417.4L2106.1 418.6L2107.5 418.2L2108.9 417.2L2110.3 417.5L2111.7 415.9L2113.1 417L2114.5 414.3L2115.9 415.2L2117.3 415.7L2118.7 414.7L2120.1 413.9L2121.5 414.6L2122.9 412.7L2124.3 413.7L2125.7 411.1L2127.1 412.1L2128.5 412L2129.9 411.8L2131.3 411.3L2132.7 411L2134.1 411L2135.5 411.2L2136.9 409.5L2138.3 411.6L2139.7 411.2L2141.1 412.1L2142.5 411.9L2143.9 411.1L2145.3 411.7L2146.7 413.1L2148.1 414L2149.5 413.9L2150.9 414.6L2152.3 416.4L2153.7 417L2155.1 415.9L2156.5 415.4L2157.9 416.3L2159.3 416.2L2160.7 415.6L2162.1 416.3L2163.5 414.3L2164.9 415.2L2166.3 414.9L2167.7 413.7L2169.1 411.7L2170.5 411.5L2171.9 410.9L2173.3 411.4L2174.7 409.1L2176.1 409.5L2177.5 409.8L2178.9 408.4L2180.3 407L2181.7 407L2183.1 407.6L2184.5 407.7L2185.9 405.9L2187.3 404.5L2188.7 404.1L2190.1 404.8L2191.5 403.7L2192.9 405.6L2194.3 405.3L2195.7 403.3L2197.1 402.6L2198.5 402.2L2199.9 401.2L2201.3 403L2202.7 401.8L2204.1 402L2205.5 401.2L2206.9 401.6L2208.3 400.8L2209.7 400.8L2211.1 400L2212.5 399.5L2213.9 400.3L2215.3 399.9L2216.7 399.7L2218.1 400.6L2219.5 400.5L2220.9 400L2222.3 399.8L2223.7 399.9L2225.1 399.1L2226.5 395.4L2227.9 391.6L2229.3 389.1L2230.7 385.3L2232.1 383.8L2233.5 383.6L2234.9 383.8L2236.3 381.4L2237.7 380.6L2239.1 378.4L2240.5 377.3L2241.9 376.1L2243.3 374.8L2244.7 374.3L2246.1 375L2247.5 375.3L2248.9 374.7L2250.3 374.5L2251.7 373L2253.1 373.8L2254.5 373.8L2255.9 374.3L2257.3 374.7L2258.7 374.2L2260.1 372.8L2261.5 372.6L2262.9 372.1L2264.3 374.2L2265.7 374.6L2267.1 373.1L2268.5 374.8L2269.9 373.7" fill="none" stroke="#ee8c72" stroke-width="3.2" stroke-linejoin="round"/>
<path d="M315.5 1172.4L316.5 1162L317.5 1149.8L318.5 1152.5L319.5 1150.5L320.5 1150.5L321.5 1149.8L322.5 1149.8L323.5 1149.7L324.5 1151.6L325.5 1152.8L326.5 1155.6L327.5 1156.9L328.5 1154.9L329.5 1154L330.5 1157L331.5 1156.3L332.5 1157.7L333.5 1159.6L334.5 1156.1L335.5 1155.8L336.5 1154.4L337.5 1160.7L338.5 1160L339.5 1160.1L340.5 1158.6L341.5 1156.9L342.5 1156.5L343.5 1156.2L344.5 1156.2L345.5 1160.9L346.5 1151.6L347.5 1136.3L348.5 1128.7L349.5 1129.2L350.5 1133L351.5 1128.4L352.5 1128.3L353.5 1126.4L354.5 1114.3L355.5 1100.6L356.5 1088.4L357.5 1084.4L358.5 1085.2L359.5 1066.4L360.5 1059.6L361.5 1071.8L362.5 1075.1L363.5 1075.6L364.5 1073.9L365.5 1070.4L366.5 1072.2L367.5 1073.5L368.5 1075.2L369.5 1081.2L370.5 1084.9L371.5 1087.4L372.5 1087.8L373.5 1082.2L374.5 1078.7L375.5 1076.4L376.5 1075.2L377.5 1074.3L378.5 1073.1L379.5 1073.8L380.5 1069.8L381.5 1065.4L382.5 1068L383.5 1061.9L384.5 1062.6L385.5 1062L386.5 1061.2L387.5 1061.9L388.5 1059.4L389.5 1057L390.5 1056L391.5 1051.5L392.5 1047.8L393.5 1039.9L394.5 1030.8L395.5 1026L396.5 1015.3L397.5 1007.2L398.5 1000.1L399.5 992.4L400.5 992.4L401.5 990.4L402.5 987.9L403.5 1000.3L404.5 996.3L405.5 999.5L406.5 999.3L407.5 1001.9L408.5 1000.4L409.5 1002.7L410.5 997.4L411.5 1001.2L412.5 997.2L413.5 1006.4L414.5 999.9L415.5 1003.2L416.5 1006.7L417.5 1009.5L418.5 1010.1L419.5 1010.3L420.5 1008.9L421.5 1013.9L422.5 1012.9L423.5 1016.8L424.5 1011.1L425.5 1005.9L426.5 1006.7L427.5 995.8L428.5 986.6L429.5 981.8L430.5 974.7L431.5 956L432.5 941L433.5 931.2L434.5 921.9L435.5 918L436.5 914.6L437.5 909.8L438.5 892.7L439.5 883.9L440.5 880L441.5 880.5L442.5 878.1L443.5 870.3L444.5 861L445.5 852.9L446.5 841.2L447.5 819.5L448.5 812.7L449.5 797.6L450.5 791.7L451.5 798.7L452.5 811.8L453.5 817.1L454.5 818.9L455.5 817.6L456.5 816.5L457.5 821.1L458.5 827L459.5 830.4L460.5 829.6L461.5 829.5L462.5 835.6L463.5 833.3L464.5 836.4L465.5 831.8L466.5 836.6L467.5 834.2L468.5 838L469.5 836.3L470.5 838.7L471.5 834.6L472.5 842.1L473.5 845.4L474.5 844.9L475.5 870.1L476.5 876.8L477.5 863.3L478.5 856.6L479.5 850.4L480.5 851.6L481.5 846.8L482.5 846.7L483.5 853.6L484.5 853.3L485.5 859.5L486.5 863.6L487.5 866.1L488.5 874.4L489.5 881.7L490.5 894.1L491.5 895.5L492.5 897.7L493.5 896.5L494.5 893L495.5 895.7L496.5 896.1L497.5 892.4L498.5 893.7L499.5 894.5L500.5 898.2L501.5 899.1L502.5 903.5L503.5 906.1L504.5 912.2L505.5 924.7L506.5 936.4L507.5 932.6L508.5 929.3L509.5 926.8L510.5 921.5L511.5 920.5L512.5 920.2L513.5 923.2L514.5 923.1L515.5 921.3L516.5 934.2L517.5 935.6L518.5 940.9L519.5 945.6L520.5 948.8L521.5 943.9L522.5 941.6L523.5 936.6L524.5 933.5L525.5 933.1L526.5 925.6L527.5 923.4L528.5 923.9L529.5 923L530.5 920.8L531.5 915.1L532.5 917.9L533.5 916L534.5 914.1L535.5 909.8L536.5 900.2L537.5 899.3L538.5 894.3L539.5 888.1L540.5 880.5L541.5 877.8L542.5 876.5L543.5 877.5L544.5 880.3L545.5 884.9L546.5 882.2L547.5 886.7L548.5 883.6L549.5 887.8L550.5 889.1L551.5 887.6L552.5 888.4L553.5 893.9L554.5 891.3L555.5 895.1L556.5 894.4L557.5 896L558.5 900.9L559.5 903.4L560.5 907L561.5 905.7L562.5 900.3L563.5 903.1L564.5 900.3L565.5 902.7L566.5 902.3L567.5 900.7L568.5 896L569.5 898L570.5 895.1L571.5 903.2L572.5 900L573.5 900.6L574.5 900.9L575.5 903.5L576.5 901.1L577.5 900.8L578.5 907.3L579.5 898.7L580.5 902.2L581.5 897.7L582.5 897.1L583.5 896.1L584.5 899.8L585.5 901.2L586.5 901L587.5 894.9L588.5 898L589.5 894.3L590.5 897L591.5 898.1L592.5 895.2L593.5 898.7L594.5 898.9L595.5 894.2L596.5 894L597.5 894.8L598.5 888.7L599.5 896.4L600.5 892.1L601.5 895.6L602.5 893.1L603.5 889.9L604.5 888.2L605.5 887.5L606.5 886.4L607.5 889.1L608.5 883.2L609.5 886.7L610.5 886.8L611.5 880.6L612.5 876.6L613.5 881.8L614.5 883.3L615.5 878.4L616.5 877.2L617.5 881L618.5 880.3L619.5 881.7L620.5 874.9L621.5 873.7L622.5 871.2L623.5 869.8L624.5 866L625.5 860.1L626.5 864.9L627.5 863L628.5 860.2L629.5 857.3L630.5 857.5L631.5 855.6L632.5 848.5L633.5 853.1L634.5 850.6L635.5 851.4L636.5 855.6L637.5 860.7L638.5 865.4L639.5 858.3L640.5 852.4L641.5 841.8L642.5 844.7L643.5 839.8L644.5 838L645.5 836.2L646.5 838.4L647.5 838L648.5 839.2L649.5 837.8L650.5 841.9L651.5 839.9L652.5 839.4L653.5 841.5L654.5 844.7L655.5 843.3L656.5 843.5L657.5 846.5L658.5 846.2L659.5 845.9L660.5 845L661.5 847.8L662.5 847.6L663.5 851.5L664.5 848.1L665.5 847.8L666.5 848.8L667.5 854.4L668.5 852.8L669.5 848.3L670.5 849.1L671.5 851.8L672.5 848.9L673.5 849L674.5 849.2L675.5 843.6L676.5 844.4L677.5 843.2L678.5 840.3L679.5 840.5L680.5 840.1L681.5 841L682.5 835.6L683.5 839.5L684.5 835.4L685.5 836.1L686.5 835.1L687.5 838L688.5 840.4L689.5 837.7L690.5 837.9L691.5 836.3L692.5 839.4L693.5 837.7L694.5 838.5L695.5 838.3L696.5 840.7L697.5 841.2L698.5 838.5L699.5 834.8L700.5 836.5L701.5 834.4L702.5 831.4L703.5 826L704.5 827.3L705.5 821.8L706.5 820.2L707.5 817.1L708.5 811.8L709.5 808.1L710.5 809.4L711.5 802.4L712.5 802.6L713.5 800.6L714.5 795.6L715.5 794.9L716.5 790.4L717.5 783.5L718.5 787.1L719.5 786.1L720.5 778.4L721.5 775L722.5 773.7L723.5 769.9L724.5 767.7L725.5 761.6L726.5 757L727.5 749.8L728.5 747.4L729.5 740.5L730.5 731.5L731.5 721.3L732.5 717.7L733.5 706.3L734.5 684.9L735.5 675L736.5 677.8L737.5 699.2L738.5 726.6L739.5 738.1L740.5 722.1L741.5 705.5L742.5 696.9L743.5 693.5L744.5 697.4L745.5 715L746.5 718.4L747.5 715.2L748.5 713L749.5 708.5L750.5 709.1L751.5 714.8L752.5 708.6L753.5 707.9L754.5 707.6L755.5 706.6L756.5 705.7L757.5 700.7L758.5 701.8L759.5 705.1L760.5 704.4L761.5 708.1L762.5 708.3L763.5 713.2L764.5 711.5L765.5 713.3L766.5 714.8L767.5 716.7L768.5 717.5L769.5 716.9L770.5 723.2L771.5 724.9L772.5 733.3L773.5 739.1L774.5 737.7L775.5 730L776.5 723.1L777.5 725.3L778.5 723.8L779.5 727.3L780.5 722.2L781.5 721.2L782.5 724.4L783.5 719L784.5 723.5L785.5 715.5L786.5 718.8L787.5 723.8L788.5 724.5L789.5 721.2L790.5 723L791.5 718.2L792.5 718.8L793.5 712.7L794.5 715.2L795.5 708.1L796.5 704.1L797.5 706.8L798.5 702.5L799.5 699.2L800.5 701.2L801.5 704.8L802.5 704.7L803.5 706.4L804.5 702.6L805.5 702.6L806.5 705.8L807.5 705.7L808.5 703.4L809.5 703.6L810.5 707.2L811.5 706.4L812.5 703.3L813.5 704.9L814.5 703.1L815.5 699.4L816.5 697L817.5 693.7L818.5 688.6L819.5 685.2L820.5 679.2L821.5 672.1L822.5 673.8L823.5 668.4L824.5 666.1L825.5 662.1L826.5 655.8L827.5 647L828.5 636.4L829.5 629.3L830.5 619.6L831.5 608.4L832.5 598.1L833.5 588.3L834.5 581.6L835.5 575.9L836.5 575.8L837.5 575.4L838.5 575.7L839.5 580.3L840.5 589.7L841.5 590.9L842.5 605.5L843.5 615.7L844.5 617.5L845.5 613.4L846.5 608.3L847.5 603L848.5 596.4L849.5 595.7L850.5 592.4L851.5 588.8L852.5 587.3L853.5 587.4L854.5 591.4L855.5 590.7L856.5 591.3L857.5 593.2L858.5 590L859.5 591.1L860.5 593.7L861.5 595.8L862.5 591.8L863.5 595.7L864.5 598.1L865.5 601.2L866.5 603.3L867.5 604.2L868.5 604.8L869.5 604.7L870.5 609.2L871.5 612.8L872.5 616.3L873.5 615.9L874.5 614.4L875.5 608.3L876.5 606.2L877.5 606.3L878.5 604.4L879.5 607.2L880.5 606.8L881.5 609.6L882.5 613.7L883.5 615L884.5 618.2L885.5 617.9L886.5 624.3L887.5 625.8L888.5 628.4L889.5 627.3L890.5 630.4L891.5 634.5L892.5 641.2L893.5 637.8L894.5 628.5L895.5 628.2L896.5 624.3L897.5 625.7L898.5 622.6L899.5 626.7L900.5 632.8L901.5 625.9L902.5 625.7L903.5 629.2L904.5 626.1L905.5 626L906.5 624.4L907.5 623.5L908.5 624.8L909.5 623.4L910.5 620L911.5 619L912.5 615.7L913.5 615.1L914.5 608.2L915.5 608L916.5 604.7L917.5 604.2L918.5 606L919.5 606.5L920.5 606.3L921.5 610.6L922.5 612.8L923.5 611.4L924.5 613.4L925.5 608.4L926.5 609.3L927.5 607.4L928.5 606.4L929.5 607.3L930.5 607L931.5 605.1L932.5 608.2L933.5 610.3L934.5 605.4L935.5 607.3L936.5 605.6L937.5 605.8L938.5 612.7L939.5 610.4L940.5 612.8L941.5 614.3L942.5 616.1L943.5 612.1L944.5 615.4L945.5 619.8L946.5 617.5L947.5 617.7L948.5 619.2L949.5 621.9L950.5 623.1L951.5 620.4L952.5 621.4L953.5 624.7L954.5 622.1L955.5 620.7L956.5 627L957.5 626.6L958.5 625.4L959.5 630.4L960.5 627.1L961.5 633.9L962.5 636L963.5 630.7L964.5 635.6L965.5 639.8L966.5 645.1L967.5 648.5L968.5 643.7L969.5 642.4L970.5 640.3L971.5 637.4L972.5 634.7L973.5 636.7L974.5 642.1L975.5 644.1L976.5 642L977.5 642.3L978.5 644.8L979.5 641.9L980.5 639L981.5 640.7L982.5 640.3L983.5 638L984.5 634.4L985.5 636.8L986.5 640.9L987.5 635.2L988.5 639L989.5 637.9L990.5 637.1L991.5 641.3L992.5 638.8L993.5 642.6L994.5 642.4L995.5 645.9L996.5 644.1L997.5 648.4L998.5 649.2L999.5 646L1000.5 647.7L1001.5 649L1002.5 646.7L1003.5 649.7L1004.5 654.6L1005.5 654L1006.5 654.8L1007.5 660.2L1008.5 663.9L1009.5 670.8L1010.5 677.5L1011.5 683.8L1012.5 678.7L1013.5 672.5L1014.5 662.9L1015.5 661.2L1016.5 663.2L1017.5 663.6L1018.5 665.9L1019.5 668.2L1020.5 664.3L1021.5 662.7L1022.5 660.3L1023.5 661.2L1024.5 664.1L1025.5 660.5L1026.5 662.5L1027.5 659.3L1028.5 656.6L1029.5 658.6L1030.5 660.5L1031.5 656.7L1032.5 655.6L1033.5 657.8L1034.5 652.8L1035.5 654.8L1036.5 658L1037.5 656.9L1038.5 657.6L1039.5 661.6L1040.5 661.1L1041.5 663.4L1042.5 662.5L1043.5 662.9L1044.5 665.4L1045.5 663.1L1046.5 664.5L1047.5 665.1L1048.5 664.9L1049.5 665.4L1050.5 668.5L1051.5 668.5L1052.5 667.2L1053.5 669.4L1054.5 666.3L1055.5 670L1056.5 669.9L1057.5 666.2L1058.5 665L1059.5 664.5L1060.5 669.4L1061.5 666L1062.5 669.2L1063.5 669L1064.5 666.3L1065.5 669.5L1066.5 666.1L1067.5 668.8L1068.5 666.5L1069.5 667.7L1070.5 669.2L1071.5 665.6L1072.5 665.7L1073.5 666.1L1074.5 667.1L1075.5 667.4L1076.5 662.1L1077.5 661.8L1078.5 661.5L1079.5 662.7L1080.5 661.6L1081.5 660.3L1082.5 662.3L1083.5 656.9L1084.5 659.4L1085.5 659.2L1086.5 654.3L1087.5 655.1L1088.5 650.8L1089.5 647.5L1090.5 654.7L1091.5 652.4L1092.5 652.7L1093.5 653.8L1094.5 656L1095.5 656.1L1096.5 658.6L1097.5 658.9L1098.5 659.4L1099.5 664.8L1100.5 665.8L1101.5 665.8L1102.5 670.4L1103.5 670.7L1104.5 670.4L1105.5 670.9L1106.5 672.9L1107.5 670.6L1108.5 667.4L1109.5 664.7L1110.5 664.3L1111.5 667L1112.5 663.7L1113.5 666.8L1114.5 668L1115.5 665.5L1116.5 666.5L1117.5 664L1118.5 667.9L1119.5 665.7L1120.5 663.8L1121.5 664L1122.5 667.2L1123.5 663.1L1124.5 665.8L1125.5 663.3L1126.5 664.1L1127.5 660.2L1128.5 657.4L1129.5 658.5L1130.5 652.4L1131.5 655L1132.5 650.2L1133.5 648.5L1134.5 643.3L1135.5 641L1136.5 640.1L1137.5 636.4L1138.5 642.6L1139.5 643.8L1140.5 648.7L1141.5 643.1L1142.5 643.6L1143.5 645.6L1144.5 642.8L1145.5 641.6L1146.5 637.9L1147.5 640.7L1148.5 639.2L1149.5 633.8L1150.5 631.3L1151.5 629.5L1152.5 628.4L1153.5 631.2L1154.5 629.3L1155.5 628.9L1156.5 632.6L1157.5 626.4L1158.5 626.6L1159.5 629.6L1160.5 629.3L1161.5 631L1162.5 625.8L1163.5 637.7L1164.5 635.4L1165.5 639L1166.5 639.1L1167.5 639.1L1168.5 635.2L1169.5 636.4L1170.5 638.6L1171.5 635.5L1172.5 637L1173.5 638.9L1174.5 639.1L1175.5 641.7L1176.5 638.3L1177.5 634L1178.5 632.5L1179.5 632.4L1180.5 630.7L1181.5 629.8L1182.5 630L1183.5 634.7L1184.5 633.7L1185.5 632.1L1186.5 628.7L1187.5 633.9L1188.5 635.5L1189.5 631.7L1190.5 636.1L1191.5 633.4L1192.5 636.3L1193.5 631.4L1194.5 629.7L1195.5 631.2L1196.5 631L1197.5 634.1L1198.5 632.2L1199.5 628.9L1200.5 633.7L1201.5 633L1202.5 629L1203.5 628.7L1204.5 628.7L1205.5 631L1206.5 628.6L1207.5 630.5L1208.5 626.5L1209.5 630.8L1210.5 629L1211.5 627.5L1212.5 624.8L1213.5 629.9L1214.5 629.2L1215.5 628.9L1216.5 626.7L1217.5 626.8L1218.5 627.7L1219.5 630.7L1220.5 631.9L1221.5 620.3L1222.5 618.9L1223.5 623.2L1224.5 616.6L1225.5 613.1L1226.5 613.9L1227.5 608.7L1228.5 608.9L1229.5 601.8L1230.5 603.2L1231.5 598L1232.5 596L1233.5 595.9L1234.5 598.8L1235.5 606.7L1236.5 610.6L1237.5 609.6L1238.5 610.9L1239.5 608.5L1240.5 608.2L1241.5 607.9L1242.5 605.9L1243.5 608.4L1244.5 609.1L1245.5 605.4L1246.5 607.1L1247.5 610.3L1248.5 609.7L1249.5 610.8L1250.5 612.8L1251.5 612.7L1252.5 610.7L1253.5 613.5L1254.5 612.5L1255.5 614.3L1256.5 610.1L1257.5 611.3L1258.5 613.5L1259.5 613.4L1260.5 612.5L1261.5 613.3L1262.5 611.9L1263.5 609.1L1264.5 610.5L1265.5 611.3L1266.5 608.9L1267.5 607.6L1268.5 607.7L1269.5 608.7L1270.5 611.2L1271.5 608.3L1272.5 608.2L1273.5 606.5L1274.5 608.2L1275.5 610.8L1276.5 608.4L1277.5 606.5L1278.5 611.9L1279.5 611.1L1280.5 608.1L1281.5 609.5L1282.5 609.1L1283.5 606.2L1284.5 607.7L1285.5 605.9L1286.5 610.2L1287.5 604.7L1288.5 602.8L1289.5 600.9L1290.5 603.4L1291.5 599.9L1292.5 597.3L1293.5 601.7L1294.5 599.9L1295.5 598.5L1296.5 600.7L1297.5 598.9L1298.5 603.7L1299.5 598.8L1300.5 595.5L1301.5 594.9L1302.5 598.2L1303.5 598.3L1304.5 593.3L1305.5 591.9L1306.5 595.7L1307.5 596L1308.5 593.3L1309.5 590.8L1310.5 590.4L1311.5 593.9L1312.5 589.3L1313.5 590.1L1314.5 586.8L1315.5 580.9L1316.5 580L1317.5 576.2L1318.5 580.4L1319.5 585.1L1320.5 588.6L1321.5 591.1L1322.5 589L1323.5 590.4L1324.5 585.7L1325.5 587.1L1326.5 583.7L1327.5 584.7L1328.5 579.8L1329.5 582.2L1330.5 580.4L1331.5 579.5L1332.5 577.3L1333.5 581.8L1334.5 579.1L1335.5 576.3L1336.5 575.6L1337.5 572.5L1338.5 571.7L1339.5 570.1L1340.5 570.1L1341.5 572.3L1342.5 570.8L1343.5 566L1344.5 569.6L1345.5 568L1346.5 571.9L1347.5 576.2L1348.5 578.7L1349.5 577.5L1350.5 582.6L1351.5 581.2L1352.5 582L1353.5 580.2L1354.5 580.1L1355.5 577.2L1356.5 574.9L1357.5 571.9L1358.5 571.6L1359.5 567.8L1360.5 570.8L1361.5 570.3L1362.5 564.6L1363.5 567.4L1364.5 564.9L1365.5 566.9L1366.5 564.2L1367.5 556.6L1368.5 556.3L1369.5 553.2L1370.5 554.7L1371.5 551.9L1372.5 548.1L1373.5 545.3L1374.5 541L1375.5 533.3L1376.5 534.3L1377.5 534.4L1378.5 534.9L1379.5 531.5L1380.5 527.8L1381.5 527.2L1382.5 526.9L1383.5 522.4L1384.5 515.1L1385.5 520.1L1386.5 519.6L1387.5 519.3L1388.5 527.2L1389.5 527.1L1390.5 526.7L1391.5 528.2L1392.5 529.2L1393.5 527.1L1394.5 526.1L1395.5 524.2L1396.5 521.6L1397.5 522.7L1398.5 528.2L1399.5 533.5L1400.5 537L1401.5 531.8L1402.5 525.8L1403.5 521.4L1404.5 521.3L1405.5 517L1406.5 512L1407.5 513L1408.5 511.1L1409.5 505L1410.5 503L1411.5 500.7L1412.5 499.8L1413.5 497L1414.5 493.1L1415.5 495.9L1416.5 491.4L1417.5 488.2L1418.5 491.1L1419.5 491.4L1420.5 489.5L1421.5 491.5L1422.5 493.5L1423.5 497.7L1424.5 497.8L1425.5 502.7L1426.5 501.3L1427.5 504.4L1428.5 503.9L1429.5 502.7L1430.5 498L1431.5 499L1432.5 492.3L1433.5 487.3L1434.5 486.2L1435.5 483.4L1436.5 478.5L1437.5 478.8L1438.5 476L1439.5 475.6L1440.5 472.4L1441.5 469.2L1442.5 472.2L1443.5 471L1444.5 466.4L1445.5 467.7L1446.5 466.1L1447.5 470.9L1448.5 468L1449.5 470.3L1450.5 468.4L1451.5 469.3L1452.5 470.3L1453.5 458.8L1454.5 458.9L1455.5 454.7L1456.5 454.1L1457.5 449.4L1458.5 444.8L1459.5 438.4L1460.5 427.3L1461.5 419.6L1462.5 417.9L1463.5 408.5L1464.5 404.9L1465.5 403.9L1466.5 409.8L1467.5 412.6L1468.5 418.4L1469.5 419.9L1470.5 416.8L1471.5 419.2L1472.5 417.9L1473.5 411.3L1474.5 412.7L1475.5 414.2L1476.5 418.8L1477.5 427.8L1478.5 431.2L1479.5 432.1L1480.5 432.2L1481.5 433.3L1482.5 431.6L1483.5 436.2L1484.5 439.8L1485.5 447.8L1486.5 447.1L1487.5 453.7L1488.5 455.9L1489.5 448.4L1490.5 445.7L1491.5 446.8L1492.5 443.9L1493.5 437.8L1494.5 440.4L1495.5 435.4L1496.5 436.8L1497.5 436.9L1498.5 433.3L1499.5 434.7L1500.5 441.7L1501.5 444.5L1502.5 445.4L1503.5 451.2L1504.5 451.9L1505.5 454.9L1506.5 455L1507.5 455.1L1508.5 456.8L1509.5 456.8L1510.5 460.1L1511.5 463.5L1512.5 460.4L1513.5 466.8L1514.5 467L1515.5 463L1516.5 454.8L1517.5 457L1518.5 454.5L1519.5 452.3L1520.5 450.5L1521.5 446.2L1522.5 446.2L1523.5 446.4L1524.5 444.1L1525.5 445.5L1526.5 444.8L1527.5 446.4L1528.5 447.5L1529.5 451.3L1530.5 454.8L1531.5 453.7L1532.5 452.7L1533.5 453.6L1534.5 455.2L1535.5 460.5L1536.5 461.3L1537.5 460.6L1538.5 459.9L1539.5 463.7L1540.5 472.2L1541.5 465.5L1542.5 468.7L1543.5 467.2L1544.5 471.9L1545.5 471.7L1546.5 470.3L1547.5 468.3L1548.5 469.1L1549.5 471.9L1550.5 470.8L1551.5 471.1L1552.5 470.1L1553.5 472.1L1554.5 470L1555.5 469.6L1556.5 469.6L1557.5 468.4L1558.5 465.6L1559.5 460.7L1560.5 454.6L1561.5 456L1562.5 455.7L1563.5 457.4L1564.5 462.4L1565.5 467.8L1566.5 467.5L1567.5 467.3L1568.5 469.9L1569.5 467L1570.5 464.4L1571.5 466.7L1572.5 464.7L1573.5 462.8L1574.5 464.5L1575.5 465.8L1576.5 469.1L1577.5 468.3L1578.5 473.3L1579.5 471.5L1580.5 469.9L1581.5 473.6L1582.5 467.7L1583.5 473.3L1584.5 469.2L1585.5 468.1L1586.5 467.8L1587.5 470.5L1588.5 471.4L1589.5 470.7L1590.5 470.4L1591.5 466.7L1592.5 467.7L1593.5 465.7L1594.5 467.2L1595.5 469.5L1596.5 467.7L1597.5 465.8L1598.5 467L1599.5 466.6L1600.5 470.9L1601.5 468.1L1602.5 466.5L1603.5 468.6L1604.5 468.8L1605.5 468.3L1606.5 468L1607.5 472.2L1608.5 479.2L1609.5 483.6L1610.5 485.6L1611.5 489.9L1612.5 492.3L1613.5 499.3L1614.5 501.7L1615.5 496.5L1616.5 500.8L1617.5 503.5L1618.5 509.5L1619.5 506.1L1620.5 504.9L1621.5 503L1622.5 500.7L1623.5 497.8L1624.5 498.3L1625.5 501.6L1626.5 499.1L1627.5 500.6L1628.5 498.7L1629.5 499.6L1630.5 499.8L1631.5 498.1L1632.5 504.5L1633.5 500.2L1634.5 501.3L1635.5 504.7L1636.5 507L1637.5 504.3L1638.5 504.3L1639.5 503.2L1640.5 503.1L1641.5 504.5L1642.5 508.5L1643.5 505.6L1644.5 499.4L1645.5 503.7L1646.5 501.8L1647.5 500.8L1648.5 500.7L1649.5 502L1650.5 495.2L1651.5 497.3L1652.5 497.6L1653.5 498L1654.5 497.5L1655.5 501.1L1656.5 497.5L1657.5 499.4L1658.5 500.6L1659.5 496.4L1660.5 500.7L1661.5 499.2L1662.5 497.2L1663.5 495.4L1664.5 495.2L1665.5 496.7L1666.5 490.8L1667.5 486.2L1668.5 482.7L1669.5 483.6L1670.5 480.7L1671.5 483.1L1672.5 484.1L1673.5 478.9L1674.5 482.2L1675.5 480.6L1676.5 476.1L1677.5 477.3L1678.5 475.9L1679.5 475.3L1680.5 474.6L1681.5 472.3L1682.5 464.7L1683.5 459.2L1684.5 458.7L1685.5 457.9L1686.5 457.2L1687.5 455.7L1688.5 455.2L1689.5 453.9L1690.5 454.2L1691.5 452.4L1692.5 450.2L1693.5 451.2L1694.5 452.8L1695.5 460.2L1696.5 457.9L1697.5 452.8L1698.5 449.4L1699.5 443L1700.5 438.9L1701.5 433.8L1702.5 424.9L1703.5 429.6L1704.5 424.7L1705.5 429.5L1706.5 430L1707.5 431.1L1708.5 434.2L1709.5 431.7L1710.5 434.1L1711.5 437.2L1712.5 443.5L1713.5 444.3L1714.5 442.5L1715.5 440.4L1716.5 437.5L1717.5 434.9L1718.5 434.6L1719.5 431.8L1720.5 430.6L1721.5 436.3L1722.5 438.4L1723.5 440.5L1724.5 442.2L1725.5 443.4L1726.5 441.9L1727.5 442.3L1728.5 441.4L1729.5 440.2L1730.5 442.8L1731.5 441.2L1732.5 439.8L1733.5 441.8L1734.5 441.4L1735.5 443.7L1736.5 443.9L1737.5 447L1738.5 446.1L1739.5 447.1L1740.5 445.4L1741.5 448L1742.5 450.5L1743.5 450.5L1744.5 456.4L1745.5 454.8L1746.5 456.7L1747.5 456.8L1748.5 457.8L1749.5 458.5L1750.5 455.2L1751.5 452L1752.5 454.9L1753.5 448.5L1754.5 449.7L1755.5 447.8L1756.5 447.8L1757.5 445.7L1758.5 449.9L1759.5 449.6L1760.5 445.5L1761.5 449.6L1762.5 452.4L1763.5 454.9L1764.5 454.4L1765.5 458.5L1766.5 456.9L1767.5 460.8L1768.5 458.4L1769.5 463.6L1770.5 465.5L1771.5 463.6L1772.5 461.9L1773.5 467.2L1774.5 463.3L1775.5 465.5L1776.5 464.7L1777.5 468.2L1778.5 464.4L1779.5 463.2L1780.5 462.8L1781.5 463.4L1782.5 463.4L1783.5 460.1L1784.5 460L1785.5 456.7L1786.5 457L1787.5 455.3L1788.5 452.1L1789.5 452.8L1790.5 449.8L1791.5 448.8L1792.5 447.9L1793.5 447L1794.5 444.9L1795.5 447.4L1796.5 445.7L1797.5 444L1798.5 443.9L1799.5 443.6L1800.5 443.4L1801.5 440.8L1802.5 443.5L1803.5 443.9L1804.5 450.7L1805.5 444L1806.5 445.4L1807.5 445.7L1808.5 445.6L1809.5 449.1L1810.5 451.9L1811.5 460L1812.5 463.8L1813.5 467.9L1814.5 479.8L1815.5 483.6L1816.5 481.1L1817.5 477.7L1818.5 473.3L1819.5 474.3L1820.5 467.4L1821.5 468L1822.5 467.9L1823.5 464.8L1824.5 464.9L1825.5 472.9L1826.5 463.1L1827.5 462.1L1828.5 462.9L1829.5 461.4L1830.5 460.9L1831.5 458.6L1832.5 454L1833.5 455.3L1834.5 449.1L1835.5 449.5L1836.5 446.7L1837.5 446.3L1838.5 447.2L1839.5 447.3L1840.5 448.6L1841.5 449.2L1842.5 447.4L1843.5 448L1844.5 444.5L1845.5 448.5L1846.5 450L1847.5 447.3L1848.5 450.2L1849.5 447.9L1850.5 444.7L1851.5 447.6L1852.5 448.6L1853.5 442.7L1854.5 444.3L1855.5 443.4L1856.5 444.1L1857.5 445.5L1858.5 446.9L1859.5 447L1860.5 443.8L1861.5 443.2L1862.5 447.2L1863.5 448.3L1864.5 449L1865.5 446.9L1866.5 450.9L1867.5 444.5L1868.5 443.3L1869.5 441.9L1870.5 438.4L1871.5 438L1872.5 433.8L1873.5 433.4L1874.5 434.3L1875.5 435.8L1876.5 433.7L1877.5 432L1878.5 430.1L1879.5 434.3L1880.5 432.6L1881.5 432.7L1882.5 432.4L1883.5 437.2L1884.5 434.9L1885.5 431L1886.5 441.1L1887.5 433.8L1888.5 442L1889.5 441.5L1890.5 440L1891.5 437.7L1892.5 437.3L1893.5 437.2L1894.5 439.6L1895.5 437.7L1896.5 438.4L1897.5 439.3L1898.5 437.1L1899.5 438.3L1900.5 436.8L1901.5 435.3L1902.5 437.1L1903.5 438.8L1904.5 434.5L1905.5 435.9L1906.5 430.5L1907.5 432.2L1908.5 428.4L1909.5 431.6L1910.5 430.5L1911.5 425.1L1912.5 427.6L1913.5 420.9L1914.5 424.2L1915.5 418L1916.5 420.3L1917.5 414.9L1918.5 414.8L1919.5 411.3L1920.5 410.7L1921.5 410.7L1922.5 411.9L1923.5 408.8L1924.5 405.4L1925.5 408.7L1926.5 405.7L1927.5 407L1928.5 407.6L1929.5 406L1930.5 397.4L1931.5 396.6L1932.5 393.5L1933.5 393L1934.5 390.1L1935.5 383.9L1936.5 383.2L1937.5 376.5L1938.5 376.3L1939.5 370.1L1940.5 365.7L1941.5 365.6L1942.5 359.8L1943.5 361.5L1944.5 365.2L1945.5 367.5L1946.5 366.9L1947.5 370.3L1948.5 371L1949.5 369.7L1950.5 372.2L1951.5 367.2L1952.5 365.9L1953.5 362.2L1954.5 360L1955.5 352.6L1956.5 351.3L1957.5 345.4L1958.5 345.6L1959.5 346.7L1960.5 345L1961.5 340.8L1962.5 346.7L1963.5 352.5L1964.5 344L1965.5 348.8L1966.5 341.6L1967.5 340.2L1968.5 335.2L1969.5 340.2L1970.5 336.1L1971.5 341.8L1972.5 338L1973.5 342.1L1974.5 338.2L1975.5 338.8L1976.5 336.9L1977.5 336L1978.5 336.6L1979.5 333L1980.5 333.5L1981.5 333.7L1982.5 334.1L1983.5 332.8L1984.5 339.4L1985.5 342.7L1986.5 346.6L1987.5 344.6L1988.5 343.7L1989.5 344.6L1990.5 340.2L1991.5 342L1992.5 340.4L1993.5 339.2L1994.5 343.7L1995.5 349.7L1996.5 353.5L1997.5 360.3L1998.5 362.3L1999.5 367.3L2000.5 365.9L2001.5 368.2L2002.5 366.5L2003.5 368.2L2004.5 369.3L2005.5 369.1L2006.5 365.6L2007.5 363.4L2008.5 362.7L2009.5 363.5L2010.5 366.5L2011.5 364.5L2012.5 371.5L2013.5 374.3L2014.5 370.4L2015.5 371.6L2016.5 369.4L2017.5 372.3L2018.5 370L2019.5 370.5L2020.5 373.2L2021.5 370.8L2022.5 368.2L2023.5 373.9L2024.5 379.1L2025.5 372.5L2026.5 363.7L2027.5 367.8L2028.5 361.7L2029.5 358L2030.5 358L2031.5 352.4L2032.5 352.8L2033.5 348.8L2034.5 345.6L2035.5 351.9L2036.5 349.5L2037.5 348.5L2038.5 344.4L2039.5 350.1L2040.5 350.1L2041.5 348.3L2042.5 348.8L2043.5 345.2L2044.5 348.1L2045.5 347.5L2046.5 345.8L2047.5 346.6L2048.5 350.1L2049.5 355.2L2050.5 355.5L2051.5 354L2052.5 355.1L2053.5 357.2L2054.5 354.6L2055.5 352.4L2056.5 345.2L2057.5 345.2L2058.5 338.2L2059.5 337L2060.5 336.6L2061.5 336.2L2062.5 332.6L2063.5 331.4L2064.5 334.2L2065.5 333.4L2066.5 334.7L2067.5 332.8L2068.5 332.6L2069.5 332.1L2070.5 329.2L2071.5 329.2L2072.5 331.3L2073.5 334.4L2074.5 330.9L2075.5 334.8L2076.5 335.4L2077.5 335.3L2078.5 338.2L2079.5 340.6L2080.5 341.3L2081.5 345.5L2082.5 341.5L2083.5 346.9L2084.5 346.8L2085.5 350.2L2086.5 347.8L2087.5 348.3L2088.5 346.5L2089.5 345L2090.5 347.3L2091.5 346.5L2092.5 350.6L2093.5 348.8L2094.5 349.5L2095.5 353L2096.5 355.4L2097.5 355.8L2098.5 359.1L2099.5 358.1L2100.5 359.9L2101.5 364L2102.5 369.6L2103.5 366.2L2104.5 366.1L2105.5 363.5L2106.5 360.3L2107.5 359.5L2108.5 359.4L2109.5 357.6L2110.5 356.8L2111.5 353.4L2112.5 355L2113.5 357.5L2114.5 353L2115.5 358.6L2116.5 363.6L2117.5 365.9L2118.5 364.1L2119.5 361.3L2120.5 357.3L2121.5 356.8L2122.5 357.5L2123.5 360.8L2124.5 360.3L2125.5 359.7L2126.5 357.6L2127.5 356.3L2128.5 358.6L2129.5 355.9L2130.5 351.3L2131.5 353.2L2132.5 350.8L2133.5 350.9L2134.5 356.2L2135.5 351.4L2136.5 355.9L2137.5 358.5L2138.5 356.1L2139.5 358.5L2140.5 361.5L2141.5 357.6L2142.5 357.6L2143.5 362.7L2144.5 362.2L2145.5 361.9L2146.5 364.9L2147.5 366.1L2148.5 368.4L2149.5 370.5L2150.5 373.7L2151.5 373.8L2152.5 377.1L2153.5 376.7L2154.5 377L2155.5 377.9L2156.5 376.2L2157.5 376.3L2158.5 373.9L2159.5 371.9L2160.5 372.4L2161.5 378.5L2162.5 382.2L2163.5 383.9L2164.5 386.1L2165.5 391.4L2166.5 405.1L2167.5 405.3L2168.5 399.1L2169.5 398.1L2170.5 402.5L2171.5 401.5L2172.5 401.2L2173.5 403.8L2174.5 400L2175.5 402.5L2176.5 400.6L2177.5 397.2L2178.5 394.7L2179.5 391.5L2180.5 394.7L2181.5 390.2L2182.5 394.2L2183.5 395.6L2184.5 394.1L2185.5 390.5L2186.5 389.5L2187.5 391.9L2188.5 388.5L2189.5 388L2190.5 390.3L2191.5 391.8L2192.5 395.3L2193.5 392.9L2194.5 399.3L2195.5 396.6L2196.5 400.8L2197.5 399.8L2198.5 401.6L2199.5 401L2200.5 398.6L2201.5 396.7L2202.5 395.7L2203.5 396.2L2204.5 401L2205.5 402.1L2206.5 405.7L2207.5 405.9L2208.5 405.9L2209.5 404.2L2210.5 405.8L2211.5 403.9L2212.5 406.2L2213.5 402.6L2214.5 402.3L2215.5 400.7L2216.5 405.3L2217.5 404.9L2218.5 401.8L2219.5 403.5L2220.5 404L2221.5 402.3L2222.5 403.2L2223.5 402.9L2224.5 408.6L2225.5 411.3L2226.5 412.7L2227.5 413.9L2228.5 410.1L2229.5 417.5L2230.5 414.7L2231.5 412L2232.5 413.5L2233.5 414.2L2234.5 414.3L2235.5 410.9L2236.5 411.4L2237.5 411.4L2238.5 413.2L2239.5 414.3L2240.5 412.1L2241.5 410.4L2242.5 412.3L2243.5 409.3L2244.5 414.6L2245.5 415.8L2246.5 414.7L2247.5 412.7L2248.5 413.6L2249.5 413.2L2250.5 411.2L2251.5 413.3L2252.5 415.3L2253.5 410.4L2254.5 405.8L2255.5 402L2256.5 395.5L2257.5 399.1L2258.5 394.7L2259.5 390.8L2260.5 388.6L2261.5 394.6L2262.5 394.7L2263.5 391.9L2264.5 389.7L2265.5 393.8L2266.5 390.7L2267.5 393.7L2268.5 390.8L2269.5 389.4L2269.9 388.7" fill="none" stroke="#848484" stroke-width="3.4" stroke-linejoin="round"/>
<path d="M315 866.5V595.3h1V587.2h1V576.5h1V621.5h1V560.6h1V549.2h1V573h1V566.2h1V587.1h1V599.4h1V631.1h1V646h1V682.2h1V689h1V698.5h1V704.2h1V726.4h1V731.5h1V745.3h1V753.5h1V755.3h1V751.1h1V761.8h1V766.6h1V770.8h1V765.6h1V777.2h1V782.2h1V786.1h1V770.9h1V786.8h1V794.3h1V799.1h1V812.7h1V803.6h1V805.4h1V803.6h1V804.6h1V821.5h1V811.7h1V807.9h1V804.2h1V798.9h1V799.2h1V792.9h1V794.2h1V806.3h1V792.8h1V803.4h1V790.4h1V790.1h1V790h1V786.4h1V792.7h1V787.5h1V793.7h1V791.7h1V785.2h1V779.8h1V784.5h1V792.4h1V792.2h1V784.2h1V803.7h1V781.8h1V780h1V782.4h1V777.1h1V782.4h1V783.2h1V789h1V792.8h1V792.1h1V801.8h1V809.5h1V809.3h1V806.3h1V813.2h1V807h1V810.8h1V809h1V808.8h1V813.1h1V820.2h1V817.1h1V818.3h1V822.4h1V822.3h1V815.3h1V815.2h1V814.6h1V808.3h1V807.3h1V799.7h1V798.3h1V796.2h1V786.2h1V786h1V788h1V784.7h1V779.4h1V778.8h1V774.7h1V781.1h1V774.6h1V781.1h1V778.5h1V773.8h1V776.6h1V803.6h1V767.2h1V769h1V763.7h1V761.2h1V758.2h1V762.5h1V762.6h1V759.8h1V760.8h1V758h1V733.9h1V744.6h1V755.7h1V748.1h1V742.6h1V738.8h1V741.5h1V746.5h1V739.9h1V738.3h1V735.5h1V740.1h1V729h1V733.8h1V732.3h1V724.4h1V722.1h1V718h1V712.9h1V701.1h1V693.8h1V685.3h1V679.2h1V670h1V644.3h1V654.5h1V654.7h1V638h1V631.7h1V627.3h1V618.5h1V608.7h1V618.7h1V643.8h1V669h1V679.3h1V687.1h1V698.9h1V711.7h1V724.5h1V729.8h1V733.7h1V738.4h1V742.2h1V742.9h1V767.2h1V746.9h1V744.3h1V753.6h1V755.3h1V748.1h1V747.2h1V740.4h1V741.7h1V742.9h1V754.3h1V770.2h1V785h1V792.1h1V780.2h1V779.2h1V787h1V775.2h1V759.5h1V750.1h1V728.6h1V711.5h1V677.9h1V702.3h1V724.3h1V695.8h1V699.9h1V687.5h1V692.6h1V695.9h1V697.9h1V699.1h1V699.7h1V705.5h1V718.1h1V729.9h1V732.5h1V741.7h1V722.6h1V780.8h1V730.9h1V730.2h1V725.9h1V716.4h1V710.5h1V686.8h1V648.7h1V611.8h1V567h1V509.3h1V496.1h1V388.5h1V396.3h1V408.6h1V413.5h1V422.5h1V443.9h1V458h1V460.6h1V489.9h1V496.9h1V536.9h1V587h1V627.1h1V698.6h1V771h1V809.4h1V772.1h1V764.7h1V771.8h1V766.8h1V765.2h1V770.1h1V776.2h1V786.1h1V794.5h1V789.5h1V764.2h1V745h1V713h1V713.2h1V708.1h1V707.3h1V706.9h1V692.4h1V688.4h1V685.5h1V698.5h1V702h1V690.4h1V702h1V702.3h1V709.8h1V775.9h1V858.9h1V824.3h1V857.2h1V829.2h1V825.7h1V826.1h1V829.6h1V825.5h1V841.2h1V857.6h1V866.5h1V866.5h1V877.9h1V887.7h1V897.9h1V902.3h1V901.2h1V910.1h1V920.9h1V911.4h1V921.6h1V912.3h1V892.7h1V871.4h1V866.5h1V859h1V840.8h1V823.4h1V825.1h1V794.2h1V768.6h1V732.3h1V729.2h1V752.1h1V718.5h1V710.9h1V713.4h1V715.2h1V714.9h1V710.4h1V707.1h1V755.3h1V773.4h1V800.5h1V811.2h1V826.3h1V833.9h1V858.3h1V840.4h1V826.8h1V809.3h1V809.4h1V814.2h1V793.9h1V770.7h1V764.3h1V764.8h1V756.9h1V750.5h1V741.4h1V755h1V729.8h1V700.9h1V626.2h1V541.6h1V515.5h1V498.3h1V497.7h1V507.2h1V543h1V554.2h1V599.8h1V546.4h1V530.1h1V521.2h1V551.2h1V557h1V590.8h1V645.5h1V703.8h1V633.4h1V557.5h1V535.7h1V528.7h1V513.3h1V513.7h1V510.1h1V506.6h1V555.2h1V512.5h1V528.4h1V531h1V584.6h1V614.6h1V754h1V800.1h1V799.6h1V786h1V776.5h1V776.1h1V766.3h1V754.1h1V753.9h1V736.1h1V732.3h1V737.4h1V746.6h1V774.5h1V779.9h1V782.3h1V801h1V800.1h1V785.7h1V775.7h1V770.4h1V771.5h1V778.4h1V792.3h1V797.6h1V800.7h1V792.5h1V783.7h1V769.4h1V759h1V758.2h1V752.8h1V765.8h1V780.4h1V791h1V812.8h1V831.9h1V850.5h1V880.6h1V909.8h1V939.4h1V964h1V979.2h1V1010.9h1V996.6h1V1002.3h1V975.3h1V958.1h1V944.9h1V932.5h1V913.3h1V890.5h1V811.7h1V748.1h1V737.8h1V742.8h1V744.2h1V740.6h1V733.2h1V740.5h1V744.2h1V749.9h1V756.1h1V757.8h1V763.7h1V781.5h1V796.1h1V802.9h1V809.8h1V850.7h1V827.9h1V833h1V830.3h1V835.6h1V870.5h1V891.8h1V873.3h1V905.9h1V891.7h1V926.8h1V918.6h1V930.5h1V935.6h1V913.9h1V895h1V868.5h1V861.2h1V838.6h1V828.5h1V853.9h1V807.2h1V788.1h1V773.7h1V757.2h1V748.3h1V725.6h1V739.2h1V747.9h1V757h1V782.6h1V794.4h1V800.6h1V805.6h1V805.6h1V802.3h1V807h1V826.5h1V822.3h1V839h1V834.1h1V836.7h1V831.5h1V830h1V828.8h1V855.7h1V850.4h1V859.5h1V868h1V873.7h1V882.3h1V886.5h1V878.7h1V868.6h1V855.7h1V848.3h1V832.7h1V821.5h1V805h1V794.2h1V778.6h1V773.6h1V771.2h1V756.2h1V751.7h1V737.7h1V749.8h1V745.7h1V732.9h1V729.3h1V723.2h1V726.4h1V721.3h1V705.9h1V708.7h1V703.6h1V703.9h1V699.1h1V716.6h1V736.8h1V768.1h1V789.7h1V807.2h1V797.8h1V779h1V751.9h1V760.7h1V753.4h1V742.8h1V710.6h1V723h1V718.4h1V656.1h1V620.4h1V576.9h1V563.5h1V564.2h1V579.5h1V593.5h1V608.8h1V618.2h1V650.2h1V673h1V696h1V718h1V734.2h1V763h1V780.7h1V804.1h1V827.7h1V826.3h1V828.2h1V831.6h1V838.7h1V820.5h1V801.6h1V786.6h1V758.1h1V741.5h1V741h1V737.5h1V741.2h1V763.6h1V760.3h1V763.7h1V762.3h1V771.6h1V771.4h1V780.2h1V781.1h1V776.5h1V781.3h1V768.2h1V775.5h1V773.2h1V773.1h1V771h1V757.4h1V745.8h1V737.6h1V737.3h1V724.7h1V719.7h1V755.2h1V729.6h1V704.1h1V725.2h1V729.3h1V711.2h1V725.6h1V723.7h1V735.6h1V740.8h1V756.7h1V764.4h1V850.1h1V866.5h1V866.5h1V866.5h1V824.3h1V823.8h1V826.3h1V821.4h1V817.5h1V821h1V817.7h1V817.9h1V806.6h1V799.9h1V796.2h1V796.3h1V791.7h1V790.5h1V798.9h1V800.4h1V805h1V809.6h1V816.3h1V818.1h1V820.2h1V820.9h1V824.4h1V818.3h1V819.8h1V815.7h1V816.4h1V808.1h1V798h1V796.8h1V793.6h1V790.3h1V786.6h1V786.1h1V781.9h1V778.3h1V773.9h1V775.6h1V769.2h1V782.2h1V792.2h1V805.4h1V811.8h1V821h1V839.1h1V834.5h1V841.5h1V844.7h1V848.1h1V853.8h1V856.6h1V860.9h1V865.5h1V867.7h1V870h1V870.2h1V870.2h1V895.5h1V904h1V912.1h1V910.5h1V891.3h1V884.4h1V876.8h1V873.9h1V871h1V869.4h1V868.7h1V867.3h1V860.7h1V841.6h1V821.8h1V817h1V820.2h1V836.7h1V817.4h1V809.6h1V806.1h1V798.9h1V806.3h1V786.1h1V782h1V772.5h1V746.7h1V764.6h1V749.7h1V753h1V762.6h1V771.1h1V772.9h1V784.9h1V796.7h1V800.8h1V809.8h1V822.4h1V828.8h1V827.9h1V833.2h1V828.6h1V861.3h1V836.9h1V822.4h1V830.4h1V831.4h1V830.7h1V842.6h1V838.2h1V839h1V841.9h1V842.3h1V843.3h1V847.1h1V847.1h1V844.7h1V844.2h1V836h1V837.7h1V833.5h1V825.9h1V817.5h1V814.6h1V811.9h1V794.6h1V793.5h1V785.8h1V783.5h1V787.2h1V779h1V766.8h1V761.9h1V756.4h1V775.1h1V761.1h1V772.2h1V767.2h1V776.6h1V784.1h1V785.3h1V794.5h1V802.3h1V827.5h1V846.1h1V827.9h1V851.8h1V854.5h1V844.4h1V854.4h1V857.1h1V856.4h1V861.6h1V842.6h1V818.9h1V814.3h1V810.5h1V814.2h1V808.6h1V801.2h1V805.1h1V806h1V800.3h1V804.5h1V805.1h1V800.5h1V797.7h1V799.8h1V791.4h1V801h1V786.2h1V798.1h1V790.7h1V792.9h1V793.1h1V796.4h1V787h1V785.9h1V789.2h1V788.1h1V793.8h1V793.4h1V793.5h1V788.2h1V786.4h1V789.3h1V794.8h1V797.8h1V793.5h1V795.2h1V798.2h1V799.5h1V791.8h1V797.1h1V794h1V798.5h1V813.1h1V801.7h1V786.2h1V797h1V815h1V795.6h1V794.8h1V788.4h1V776.3h1V770.3h1V759.7h1V761.3h1V759h1V757.5h1V741.1h1V742.8h1V743.2h1V766.8h1V729h1V728.4h1V698.7h1V708.5h1V720.3h1V724.7h1V726.2h1V732.5h1V743.5h1V735.5h1V734.3h1V737.5h1V738.2h1V735.7h1V709.3h1V741h1V727.2h1V730.1h1V729.7h1V724.1h1V735.8h1V735.5h1V746.4h1V741.2h1V747.1h1V752.1h1V762.5h1V784.6h1V818.4h1V840.7h1V881.5h1V909.5h1V912.6h1V920.2h1V906.8h1V895.2h1V888.6h1V883.7h1V874.1h1V883.8h1V877.4h1V869h1V800.8h1V803.9h1V866.5h1V881.6h1V890.6h1V879.2h1V914.8h1V922.4h1V925.1h1V924.4h1V908.2h1V873.9h1V895.8h1V886.2h1V877.9h1V872.7h1V868.3h1V858.7h1V844.1h1V860.3h1V840.8h1V802.2h1V798h1V750.7h1V733h1V719.1h1V700.4h1V717.1h1V742.3h1V735.3h1V730h1V748.2h1V733.1h1V766.2h1V778.6h1V796.5h1V827.7h1V862.4h1V872.4h1V890.4h1V902h1V909.6h1V918.9h1V911.2h1V894h1V884.3h1V875.5h1V869.3h1V854.3h1V838.7h1V842.4h1V800.6h1V781.3h1V771.4h1V749.1h1V729.5h1V698.6h1V703.4h1V689.3h1V673.1h1V672.4h1V648.6h1V661h1V670.2h1V687h1V710.8h1V741.8h1V722.7h1V739.7h1V748.1h1V747.3h1V752.5h1V755.8h1V764.9h1V771.7h1V798.7h1V813.4h1V826.4h1V851.8h1V872.3h1V874.6h1V873.7h1V875h1V880h1V878.5h1V885.7h1V916h1V913.2h1V871.7h1V854.9h1V842h1V824.2h1V811.5h1V806.7h1V793.7h1V798.5h1V787.9h1V783.7h1V778.7h1V755.9h1V765.1h1V791.5h1V829.3h1V880.1h1V904.8h1V923.7h1V885.7h1V881.1h1V850.9h1V827.7h1V801.5h1V781.4h1V766.7h1V758.6h1V732.2h1V658h1V669.3h1V650.9h1V684.8h1V717.5h1V738.8h1V745h1V754.1h1V762.5h1V762.9h1V765.1h1V765.3h1V765.2h1V759.1h1V748.9h1V741.8h1V738h1V728.3h1V720.8h1V730.4h1V740.8h1V744.1h1V745.2h1V762.2h1V772.9h1V779.8h1V783.6h1V787.9h1V818.6h1V781.9h1V800h1V802.4h1V805.2h1V812.4h1V811.8h1V808.9h1V805.5h1V803.4h1V796.7h1V785.2h1V783.2h1V774.4h1V772.9h1V769.2h1V770.2h1V764.7h1V758.6h1V753.8h1V748.9h1V756.1h1V756.8h1V761.7h1V768.6h1V788.5h1V779.1h1V810.8h1V821.5h1V834.9h1V824.7h1V821.3h1V824.4h1V825.9h1V825.1h1V812.2h1V806.2h1V797.8h1V804.5h1V804.6h1V799h1V796.3h1V790.8h1V789.4h1V780.5h1V811.6h1V795.3h1V806.3h1V804.2h1V819.4h1V830.1h1V837.9h1V853.4h1V860.4h1V876.1h1V896.2h1V925.7h1V952.8h1V977.7h1V1008.2h1V1025.8h1V995.1h1V988.6h1V987.1h1V963.7h1V953.4h1V941.7h1V926.3h1V913.8h1V912.5h1V872.7h1V848.9h1V829.6h1V814.3h1V821.5h1V812h1V818.5h1V829.9h1V834.5h1V850.6h1V858.1h1V858.5h1V862.2h1V871.1h1V878.9h1V891.7h1V892.9h1V924.2h1V950.1h1V952.6h1V891.7h1V869.2h1V867.5h1V866.5h1V869.2h1V890.8h1V916.9h1V903.7h1V878.3h1V867.8h1V859h1V850.1h1V837.5h1V851h1V854.9h1V830.1h1V852.7h1V880.6h1V876.5h1V860h1V842.6h1V822.5h1V799.2h1V775.6h1V746h1V721.6h1V695.5h1V679.6h1V660h1V640h1V629.5h1V634.3h1V639.4h1V645.1h1V663.6h1V667.2h1V688.2h1V709.5h1V755.6h1V792.7h1V822.9h1V822.9h1V831.8h1V830.4h1V824h1V811.7h1V804.3h1V793.2h1V802.8h1V782.6h1V782.1h1V771.2h1V766.6h1V768.5h1V785.4h1V785.8h1V794.4h1V808.6h1V810h1V813.4h1V822h1V830.8h1V837.3h1V845.8h1V857.9h1V884.2h1V911.2h1V926.5h1V928.6h1V942.4h1V951h1V938.6h1V930h1V925.6h1V937h1V934.6h1V937.5h1V952.1h1V959.6h1V940.5h1V923.9h1V941.2h1V952.5h1V963.3h1V982.5h1V995.4h1V1009.6h1V1022.5h1V1075.5h1V1062.8h1V1043.6h1V1016h1V1006.6h1V1000.5h1V989h1V959.9h1V902.9h1V896.4h1V880.1h1V864.1h1V862.3h1V843.7h1V850.6h1V855.6h1V861.9h1V881.1h1V925.5h1V944.3h1V934.9h1V926.2h1V900.5h1V885.2h1V890.9h1V898.3h1V911.3h1V902.4h1V887.4h1V878.6h1V843.8h1V804.1h1V814h1V824.7h1V839.8h1V860.9h1V878.9h1V870.3h1V856h1V850.2h1V860.3h1V876.7h1V897.8h1V878.2h1V919.3h1V928.9h1V916.6h1V911.1h1V897.6h1V887.4h1V882.7h1V878.3h1V868h1V863.6h1V859.8h1V858.4h1V849h1V846.1h1V842.9h1V840.8h1V841h1V848.8h1V848.7h1V855.3h1V868.1h1V869.5h1V862.5h1V860.8h1V854h1V847.8h1V851.7h1V863.1h1V875.7h1V886.1h1V894.5h1V898.3h1V890.4h1V884.5h1V874.4h1V869h1V867.4h1V868.5h1V861.7h1V856.4h1V851.8h1V850.9h1V852.1h1V856.9h1V853.7h1V852.8h1V847.6h1V842h1V839h1V834.7h1V849.8h1V859.4h1V864.6h1V869.7h1V874.3h1V885.5h1V872.7h1V841.7h1V849h1V805.4h1V786.6h1V777.8h1V780.5h1V770.8h1V775.3h1V764.2h1V766.7h1V763.9h1V781.5h1V789.3h1V803.5h1V835.6h1V868h1V875.3h1V882.2h1V875.8h1V881.5h1V880.2h1V882.3h1V884.1h1V878.6h1V879.2h1V882.4h1V885.4h1V888.9h1V874.6h1V879.6h1V874.1h1V873.7h1V871.9h1V860.3h1V859.9h1V863h1V866.5h1V868.1h1V880.6h1V895h1V908h1V921.2h1V944.3h1V954.4h1V970.3h1V972.4h1V959.5h1V981.1h1V982.2h1V978.6h1V964.4h1V927.5h1V876h1V891.2h1V870.6h1V847.4h1V831.4h1V831.7h1V859.3h1V814.3h1V808.2h1V799.6h1V803.9h1V801.9h1V796.4h1V796.8h1V804.1h1V819.2h1V831.1h1V836.7h1V832h1V845.1h1V851.6h1V856.7h1V860.3h1V869.1h1V879.9h1V879.7h1V868.8h1V860.1h1V857.8h1V853.8h1V855h1V854.3h1V843.7h1V850.7h1V857.9h1V862.4h1V865h1V894.4h1V946h1V959.3h1V967.5h1V969.5h1V966.2h1V974.5h1V977.4h1V964.3h1V999.3h1V983.6h1V978.4h1V955.5h1V830.2h1V834.3h1V838.2h1V832.1h1V826.6h1V820.8h1V812h1V794.6h1V791.7h1V792.6h1V793.1h1V820.7h1V851.4h1V847.4h1V865.2h1V860.6h1V843.2h1V823.1h1V852.1h1V861.5h1V870.2h1V885.2h1V881.1h1V881.8h1V857.3h1V843.2h1V857.7h1V862.4h1V866.5h1V896.2h1V910.7h1V914.4h1V914.6h1V914h1V911.9h1V916.2h1V925.3h1V926.4h1V884.7h1V912.2h1V897h1V887.3h1V874h1V860.8h1V838.2h1V838.2h1V833.1h1V831.5h1V829.1h1V815.9h1V811.4h1V799.8h1V795.3h1V789.7h1V787.8h1V787.5h1V784.1h1V784.1h1V781.8h1V754.7h1V765.6h1V746h1V747.3h1V750.2h1V744.3h1V792.1h1V795.3h1V795.8h1V811.1h1V815.2h1V822h1V832.2h1V830.1h1V834.6h1V846.3h1V850h1V848.2h1V846.5h1V862.3h1V870.6h1V889.2h1V895.1h1V896.5h1V897.4h1V902.4h1V902.9h1V903.7h1V903.7h1V894.7h1V878.4h1V869.7h1V859.3h1V862.4h1V828.1h1V810.7h1V797.2h1V789.9h1V780.9h1V758h1V791.1h1V801.7h1V809.1h1V810.5h1V821.4h1V826.9h1V830.1h1V838.1h1V848.3h1V843.9h1V847.2h1V854.1h1V854.7h1V857.2h1V857.5h1V859.7h1V859.6h1V858.5h1V861h1V859.6h1V862h1V862.4h1V863.3h1V864.4h1V867.6h1V873h1V877.6h1V874.7h1V875.5h1V872h1V878.5h1V877.2h1V879.7h1V875.4h1V873.8h1V869.3h1V874.7h1V877h1V877.4h1V869.5h1V864.3h1V855h1V855.5h1V884.9h1V891.7h1V891.7h1V891.2h1V890.1h1V893.7h1V891h1V885.3h1V875.6h1V876.4h1V873.1h1V868h1V849h1V829.3h1V818.3h1V818.3h1V812.2h1V822.7h1V831.4h1V826.7h1V843.6h1V849.6h1V854.8h1V865.7h1V873.1h1V880.3h1V889.1h1V892.1h1V897.6h1V904h1V903.8h1V899.2h1V888.5h1V893.7h1V896.7h1V893.6h1V868.8h1V863.2h1V863.8h1V862.1h1V861.3h1V863.3h1V864.7h1V865.2h1V863.1h1V861.6h1V862.9h1V870.8h1V881.6h1V888.8h1V886.5h1V889.5h1V884.5h1V881.9h1V895.5h1V896h1V909h1V927.2h1V948.5h1V952.6h1V950h1V938.2h1V943.7h1V943.2h1V951.1h1V959.6h1V940.8h1V936.4h1V933.3h1V911.8h1V901.5h1V874.1h1V864.7h1V856.5h1V852.5h1V856.6h1V853.7h1V849.7h1V849.4h1V853.9h1V864.8h1V870.5h1V883.8h1V893.9h1V883h1V880h1V863.9h1V858.6h1V856.3h1V854.6h1V846.7h1V834.3h1V826.5h1V850.3h1V833.9h1V860.7h1V831.4h1V830.3h1V839.4h1V823.2h1V815.7h1V829.3h1V828h1V827h1V829.7h1V855.5h1V864.3h1V873.7h1V877h1V881.4h1V882.7h1V892.1h1V896.6h1V901.8h1V900.7h1V894.2h1V886.2h1V886.5h1V877.3h1V891.8h1V873.2h1V873.6h1V863.8h1V847.4h1V849.4h1V832.4h1V828.6h1V856.4h1V865.9h1V868.3h1V877.4h1V876.6h1V877.5h1V875.7h1V892.8h1V905.7h1V926.2h1V936.7h1V923.7h1V956.1h1V955.7h1V960.5h1V921.9h1V866.5h1V845.6h1V815.2h1V779.7h1V722.8h1V710.9h1V691.5h1V706.9h1V665.5h1V662.5h1V651.6h1V606.2h1V620.8h1V628.4h1V616.6h1V629.8h1V636.7h1V675.6h1V637.8h1V653.9h1V663.8h1V659.7h1V674.5h1V694.1h1V715.3h1V740.8h1V775.3h1V805.1h1V835h1V848.1h1V871.6h1V882.5h1V887.9h1V885.1h1V876.2h1V874h1V832.7h1V815.8h1V821.2h1V826.1h1V838.1h1V840.7h1V837.9h1V836.3h1V835.1h1V825.9h1V826.9h1V825.6h1V862.7h1V873h1V902.8h1V892.3h1V869.9h1V864.8h1V860.9h1V860.6h1V858.1h1V858.7h1V855.5h1V858.3h1V860.6h1V860.6h1V862.4h1V862.5h1V862.6h1V863.8h1V864.3h1V865.2h1V865.7h1V868.8h1V870h1V872.9h1V872.5h1V873.6h1V874.7h1V874.9h1V881h1V879.2h1V879.6h1V880.4h1V885.5h1V883.9h1V876.8h1V882.2h1V891h1V874.3h1V894.9h1V895.7h1V889.8h1V889.3h1V887.1h1V887.4h1V881.1h1V878h1V872.6h1V870.5h1V864.7h1V858h1V853.6h1V839.8h1V834.4h1V835.9h1V856.6h1V837h1V844.4h1V849.2h1V853.9h1V850h1V848.9h1V852.3h1V849.1h1V849.3h1V840.1h1V842.2h1V839.9h1V829.8h1V832.2h1V825.2h1V823.4h1V829.8h1V809.7h1V803.3h1V803.3h1V808.2h1V816.9h1V852.8h1V828.8h1V847.8h1V831.7h1V835h1V833.9h1V844.4h1V843.2h1V852.8h1V854.2h1V854.7h1V858.9h1V864.6h1V866.5h1V866.5h1V866.5h1V866.5h1V869.7h1V871.9h1V890.8h1V899.4h1V901.9h1V883.8h1V907.1h1V909.7h1V906.7h1V903.8h1V900h1V894.8h1V884.3h1V875h1V872.8h1V861.9h1V851.2h1V852.9h1V849.4h1V840.3h1V838.6h1V834.1h1V828.6h1V826.7h1V830h1V831.9h1V827h1V838.2h1V829.5h1V833.2h1V826.8h1V848.3h1V821.7h1V825.3h1V830.9h1V852.5h1V842h1V848.8h1V849.6h1V860.3h1V867.4h1V868.8h1V872h1V873.9h1V877.9h1V881.1h1V887.7h1V882.3h1V903.6h1V905.4h1V909.3h1V909.9h1V879.6h1V912h1V905.4h1V904.9h1V905.3h1V901h1V897.5h1V898.8h1V889.6h1V888.8h1V886.9h1V886.8h1V887h1V883.9h1V866.5h1V866.5h1V862.8h1V857.4h1V821.9h1V826.5h1V822.6h1V817.2h1V811.1h1V803.2h1V801.2h1V797.8h1V786.7h1V796.4h1V797.3h1V809.2h1V813h1V819.7h1V825.2h1V825.1h1V827.1h1V827h1V830.3h1V832h1V836.3h1V838.1h1V836.9h1V833.4h1V826.7h1V818h1V821h1V822.7h1V839.8h1V825.9h1V830.9h1V834.3h1V838.3h1V833.3h1V834.1h1V834.8h1V839.5h1V836h1V840.5h1V839.2h1V834.2h1V830.6h1V837.2h1V839.7h1V838.5h1V836.6h1V842.5h1V840.8h1V841.9h1V846.8h1V847.9h1V856.6h1V860.9h1V863.6h1V866.5h1V866.5h1V866.5h1V833.8h1V810.1h1V783.5h1V771.2h1V748.8h1V740.3h1V724.6h1V713.3h1V710.2h1V704.5h1V692.1h1V691.8h1V695.7h1V700.2h1V726.5h1V736.7h1V755.8h1V761.7h1V758h1V763.8h1V779.1h1V772.9h1V774h1V776.6h1V791.3h1V795.8h1V802.8h1V814.7h1V824.7h1V830.1h1V840.1h1V861.2h1V858.6h1V861.3h1V865.4h1V865.2h1V859.8h1V858.7h1V853.8h1V853.1h1V852.5h1V855.5h1V859.7h1V863.5h1V866.5h1V866.5ZM878.7 735V519H879.9V418.5H881V519H882V735ZM892.3 866H896L895.4 1000L894.9 1128.5H894.1L893.2 1000ZM1971.1 622V572H1972.3V622Z" fill="#65a3cc" fill-opacity="0.86"/>
<g stroke="#10af6f" stroke-width="3" fill="none" stroke-linecap="round" stroke-linejoin="round">
<path d="M319 1064.3 L905.3 575.7 M888.6 573.8 L905.3 575.7 L903.4 592.2"/>
<path d="M919 569.5 L1428 400.5 M1410 394.5 L1428 400.5 L1418.5 417"/>
</g>
<text x="935" y="379.8" font-size="34.6" fill="#10af6f" font-weight="bold" text-anchor="middle" textLength="350" lengthAdjust="spacingAndGlyphs" stroke="#10af6f" stroke-width="0.7">General Expansion in</text>
<text x="935" y="420.3" font-size="34.6" fill="#10af6f" font-weight="bold" text-anchor="middle" textLength="339" lengthAdjust="spacingAndGlyphs" stroke="#10af6f" stroke-width="0.7">Fish to Shark Supply</text>
<text x="939.5" y="461" font-size="34.6" fill="#10af6f" font-weight="bold" text-anchor="middle" textLength="268" lengthAdjust="spacingAndGlyphs" stroke="#10af6f" stroke-width="0.7">Through to 2017</text>
<g stroke="#e8125b" stroke-width="3" fill="none" stroke-linecap="round" stroke-linejoin="round"><path d="M1443 400.5 H2156.5 M2144.5 389 L2156.8 400.5 L2144.5 412"/></g>
<text x="1683" y="342.2" font-size="34.6" fill="#e8125b" font-weight="bold" text-anchor="middle" textLength="475.5" lengthAdjust="spacingAndGlyphs" stroke="#e8125b" stroke-width="0.7">Stagnation in Supply Growth</text>
<text x="1683" y="381.8" font-size="34.6" fill="#e8125b" font-weight="bold" text-anchor="middle" textLength="241.5" lengthAdjust="spacingAndGlyphs" stroke="#e8125b" stroke-width="0.7">Until Mid 2022</text>
<line x1="1653.7" x2="2156" y1="1029.8" y2="1029.8" stroke="#f5820f" stroke-width="5.1" stroke-dasharray="9.1 9.5" stroke-dashoffset="4.3"/>
<circle cx="1974" cy="575.7" r="26.6" fill="#fbd0a8" fill-opacity="0.45" stroke="#f5820f" stroke-width="2.7" stroke-dasharray="11 7.6"/>
<text x="1906" y="1069.8" font-size="33.4" fill="#f5820f" font-weight="bold" text-anchor="middle" textLength="461" lengthAdjust="spacingAndGlyphs" stroke="#f5820f" stroke-width="0.7">LUNA, 3AC, and FTX Events</text>
<text x="1906" y="1110.8" font-size="33.4" fill="#f5820f" font-weight="bold" text-anchor="middle" textLength="323.5" lengthAdjust="spacingAndGlyphs" stroke="#f5820f" stroke-width="0.7">Spur Resurgence in</text>
<text x="1906" y="1152.9" font-size="33.4" fill="#f5820f" font-weight="bold" text-anchor="middle" textLength="461" lengthAdjust="spacingAndGlyphs" stroke="#f5820f" stroke-width="0.7">Fish to Shark Wallet Growth</text>
<text x="56" y="1405.9" font-size="23.2" fill="#8a8a8a" font-weight="normal" text-anchor="start" textLength="453" lengthAdjust="spacingAndGlyphs">© 2023 Glassnode. All Rights Reserved.</text>
<g transform="translate(2294.2 1410.7) scale(1.0)" fill="none" stroke="#111" stroke-width="4.9"><circle cx="12.35" cy="-11.4" r="9.9"/><path d="M22.25 -22.6 V-2 A9.9 8.85 0 0 1 12.35 6.85 A9.9 8.85 0 0 1 3.7 2.6"/><path d="M32.1 -33.4 V0"/><circle cx="50.3" cy="-11.4" r="9.9"/><path d="M60.8 -22.6 V0"/><path d="M80.5 -17.4 C79.3 -20.4 76.89999999999999 -21.3 74.89999999999999 -21.3 C71.69999999999999 -21.3 69.5 -19 69.5 -16.3 C69.5 -13 72.5 -12.3 75.39999999999999 -11.3 C78.69999999999999 -10 81.1 -9 81.1 -6.1 C81.1 -3.2 78.5 -1.5 75.3 -1.5 C72.19999999999999 -1.5 69.89999999999999 -2.8 68.69999999999999 -5.4"/><path d="M99.60000000000001 -17.4 C98.4 -20.4 96.0 -21.3 94.0 -21.3 C90.8 -21.3 88.60000000000001 -19 88.60000000000001 -16.3 C88.60000000000001 -13 91.60000000000001 -12.3 94.5 -11.3 C97.8 -10 100.2 -9 100.2 -6.1 C100.2 -3.2 97.60000000000001 -1.5 94.4 -1.5 C91.3 -1.5 89.0 -2.8 87.8 -5.4"/><path d="M111.1 0 V-22.6 M111.1 -13.4 A7.4 7.7 0 0 1 125.9 -13.4 V0"/><circle cx="143.7" cy="-11.4" r="9.9"/><circle cx="170.6" cy="-11.4" r="9.9"/><path d="M180.8 -33.4 V0"/><path d="M188.7 -11.2 H208.5 A9.9 9.9 0 1 0 206.4 -5.3"/></g>
<path d="M165.7 1170.5 L117.4 1170.5 L165.7 1122.2Z" fill="rgba(251,214,120,0.42)"/><path d="M167.1 1170.5 L215.4 1170.5 L167.1 1122.2Z" fill="rgba(227,203,147,0.52)"/><path d="M165.7 1171.9 L117.4 1171.9 L165.7 1220.2Z" fill="rgba(227,203,147,0.52)"/><path d="M167.1 1171.9 L215.4 1171.9 L167.1 1220.2Z" fill="rgba(251,214,120,0.42)"/><path d="M218.7 1224.3 L170.4 1224.3 L218.7 1176Z" fill="rgba(251,214,120,0.42)"/><path d="M220.1 1224.3 L268.4 1224.3 L220.1 1176Z" fill="rgba(227,203,147,0.52)"/><path d="M218.7 1225.7 L170.4 1225.7 L218.7 1274Z" fill="rgba(227,203,147,0.52)"/><path d="M220.1 1225.7 L268.4 1225.7 L220.1 1274Z" fill="rgba(251,214,120,0.42)"/><path d="M271.1 1276.3 L222.8 1276.3 L271.1 1228Z" fill="rgba(251,214,120,0.42)"/><path d="M272.5 1276.3 L320.8 1276.3 L272.5 1228Z" fill="rgba(227,203,147,0.52)"/><path d="M271.1 1277.7 L222.8 1277.7 L271.1 1326Z" fill="rgba(227,203,147,0.52)"/><path d="M272.5 1277.7 L320.8 1277.7 L272.5 1326Z" fill="rgba(251,214,120,0.42)"/><path d="M218.7 1329.3 L170.4 1329.3 L218.7 1281Z" fill="rgba(227,203,147,0.52)"/><path d="M220.1 1329.3 L268.4 1329.3 L220.1 1281Z" fill="rgba(251,214,120,0.42)"/><path d="M218.7 1330.7 L170.4 1330.7 L218.7 1379Z" fill="rgba(251,214,120,0.42)"/><path d="M220.1 1330.7 L268.4 1330.7 L220.1 1379Z" fill="rgba(227,203,147,0.52)"/><path d="M165.7 1382.1 L117.4 1382.1 L165.7 1333.8Z" fill="rgba(227,203,147,0.52)"/><path d="M167.1 1382.1 L215.4 1382.1 L167.1 1333.8Z" fill="rgba(251,214,120,0.42)"/><path d="M165.7 1383.5 L117.4 1383.5 L165.7 1431.8Z" fill="rgba(251,214,120,0.42)"/><path d="M167.1 1383.5 L215.4 1383.5 L167.1 1431.8Z" fill="rgba(227,203,147,0.52)"/><path d="M153.6 1278 L113.8 1278 L153.6 1238.2Z" fill="rgba(251,214,120,0.42)"/><path d="M155 1278 L194.8 1278 L155 1238.2Z" fill="rgba(140,140,140,0.17)"/><path d="M153.6 1279.4 L113.8 1279.4 L153.6 1319.2Z" fill="rgba(110,110,110,0.2)"/><path d="M155 1279.4 L194.8 1279.4 L155 1319.2Z" fill="rgba(227,203,147,0.52)"/>
</svg></body></html>
